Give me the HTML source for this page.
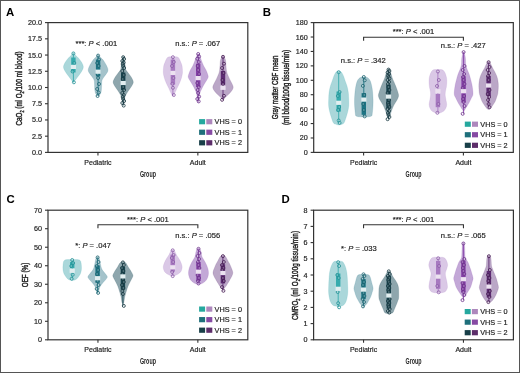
<!DOCTYPE html><html><head><meta charset="utf-8"><style>html,body{margin:0;padding:0;background:#fff;}svg{display:block;will-change:transform;} .r{stroke:#1e1e1e;stroke-width:0.18px;} .t{stroke:#1e1e1e;stroke-width:0.42px;}</style></head><body><svg width="520" height="373" viewBox="0 0 520 373">
<rect x="0" y="0" width="520" height="373" fill="#fff"/>
<path d="M73.70,52.50 C73.98,52.92 74.62,54.08 75.40,55.00 C76.18,55.92 77.40,56.83 78.40,58.00 C79.40,59.17 80.58,60.60 81.40,62.00 C82.22,63.40 83.13,65.07 83.30,66.40 C83.47,67.73 82.97,68.73 82.40,70.00 C81.83,71.27 80.82,72.67 79.90,74.00 C78.98,75.33 77.85,76.75 76.90,78.00 C75.95,79.25 74.78,80.75 74.20,81.50 C73.62,82.25 73.53,82.33 73.40,82.50 L73.40,82.50 C73.27,82.33 73.18,82.25 72.60,81.50 C72.02,80.75 70.85,79.25 69.90,78.00 C68.95,76.75 67.82,75.33 66.90,74.00 C65.98,72.67 64.97,71.27 64.40,70.00 C63.83,68.73 63.33,67.73 63.50,66.40 C63.67,65.07 64.58,63.40 65.40,62.00 C66.22,60.60 67.40,59.17 68.40,58.00 C69.40,56.83 70.62,55.92 71.40,55.00 C72.18,54.08 72.82,52.92 73.10,52.50 Z" fill="#aad7da" stroke="#35abad" stroke-opacity="0.25" stroke-width="0.6"/>
<line x1="73.40" y1="53.40" x2="73.40" y2="82.30" stroke="#35abad" stroke-width="0.9"/>
<rect x="71.20" y="57.50" width="4.4" height="15.00" fill="#35abad"/>
<circle cx="73.40" cy="53.40" r="1.5" fill="#fff" fill-opacity="0.22" stroke="#1f8f94" stroke-width="0.8"/>
<circle cx="74.30" cy="63.00" r="1.5" fill="#fff" fill-opacity="0.22" stroke="#1f8f94" stroke-width="0.8"/>
<circle cx="72.50" cy="71.50" r="1.5" fill="#fff" fill-opacity="0.22" stroke="#1f8f94" stroke-width="0.8"/>
<circle cx="73.90" cy="82.30" r="1.5" fill="#fff" fill-opacity="0.22" stroke="#1f8f94" stroke-width="0.8"/>
<rect x="70.80" y="64.80" width="5.2" height="4.2" fill="#e2eef0"/>
<path d="M98.60,55.00 C98.85,55.33 99.35,56.17 100.10,57.00 C100.85,57.83 102.00,58.50 103.10,60.00 C104.20,61.50 105.90,64.18 106.70,66.00 C107.50,67.82 108.23,69.23 107.90,70.90 C107.57,72.57 105.67,74.48 104.70,76.00 C103.73,77.52 102.60,78.67 102.10,80.00 C101.60,81.33 101.82,82.33 101.70,84.00 C101.58,85.67 101.58,88.42 101.40,90.00 C101.22,91.58 101.07,92.50 100.60,93.50 C100.13,94.50 98.93,95.58 98.60,96.00 L97.60,96.00 C97.27,95.58 96.07,94.50 95.60,93.50 C95.13,92.50 94.98,91.58 94.80,90.00 C94.62,88.42 94.62,85.67 94.50,84.00 C94.38,82.33 94.60,81.33 94.10,80.00 C93.60,78.67 92.47,77.52 91.50,76.00 C90.53,74.48 88.63,72.57 88.30,70.90 C87.97,69.23 88.70,67.82 89.50,66.00 C90.30,64.18 92.00,61.50 93.10,60.00 C94.20,58.50 95.35,57.83 96.10,57.00 C96.85,56.17 97.35,55.33 97.60,55.00 Z" fill="#a4c3cb" stroke="#1d7585" stroke-opacity="0.25" stroke-width="0.6"/>
<line x1="98.10" y1="55.60" x2="98.10" y2="96.00" stroke="#1d7585" stroke-width="0.9"/>
<rect x="95.90" y="59.50" width="4.4" height="17.00" fill="#1d7585"/>
<circle cx="98.10" cy="55.60" r="1.5" fill="#fff" fill-opacity="0.22" stroke="#175f6c" stroke-width="0.8"/>
<circle cx="99.00" cy="59.50" r="1.5" fill="#fff" fill-opacity="0.22" stroke="#175f6c" stroke-width="0.8"/>
<circle cx="97.20" cy="63.00" r="1.5" fill="#fff" fill-opacity="0.22" stroke="#175f6c" stroke-width="0.8"/>
<circle cx="98.60" cy="66.00" r="1.5" fill="#fff" fill-opacity="0.22" stroke="#175f6c" stroke-width="0.8"/>
<circle cx="97.60" cy="74.00" r="1.5" fill="#fff" fill-opacity="0.22" stroke="#175f6c" stroke-width="0.8"/>
<circle cx="98.10" cy="78.00" r="1.5" fill="#fff" fill-opacity="0.22" stroke="#175f6c" stroke-width="0.8"/>
<circle cx="99.00" cy="84.00" r="1.5" fill="#fff" fill-opacity="0.22" stroke="#175f6c" stroke-width="0.8"/>
<circle cx="97.20" cy="89.00" r="1.5" fill="#fff" fill-opacity="0.22" stroke="#175f6c" stroke-width="0.8"/>
<circle cx="98.60" cy="92.50" r="1.5" fill="#fff" fill-opacity="0.22" stroke="#175f6c" stroke-width="0.8"/>
<circle cx="97.60" cy="96.00" r="1.5" fill="#fff" fill-opacity="0.22" stroke="#175f6c" stroke-width="0.8"/>
<rect x="95.50" y="69.60" width="5.2" height="4.2" fill="#e2eef0"/>
<path d="M123.70,56.50 C123.88,57.42 124.52,60.25 124.80,62.00 C125.08,63.75 125.20,65.65 125.40,67.00 C125.60,68.35 125.28,68.78 126.00,70.10 C126.72,71.42 128.70,73.50 129.70,74.90 C130.70,76.30 131.40,77.28 132.00,78.50 C132.60,79.72 133.35,80.95 133.30,82.20 C133.25,83.45 132.45,84.67 131.70,86.00 C130.95,87.33 129.85,88.57 128.80,90.20 C127.75,91.83 126.12,94.17 125.40,95.80 C124.68,97.43 124.80,98.55 124.50,100.00 C124.20,101.45 123.75,103.75 123.60,104.50 L122.80,104.50 C122.65,103.75 122.20,101.45 121.90,100.00 C121.60,98.55 121.72,97.43 121.00,95.80 C120.28,94.17 118.65,91.83 117.60,90.20 C116.55,88.57 115.45,87.33 114.70,86.00 C113.95,84.67 113.15,83.45 113.10,82.20 C113.05,80.95 113.80,79.72 114.40,78.50 C115.00,77.28 115.70,76.30 116.70,74.90 C117.70,73.50 119.68,71.42 120.40,70.10 C121.12,68.78 120.80,68.35 121.00,67.00 C121.20,65.65 121.32,63.75 121.60,62.00 C121.88,60.25 122.52,57.42 122.70,56.50 Z" fill="#8ea6ad" stroke="#174550" stroke-opacity="0.25" stroke-width="0.6"/>
<line x1="123.20" y1="57.20" x2="123.20" y2="105.60" stroke="#174550" stroke-width="0.9"/>
<rect x="121.00" y="72.50" width="4.4" height="17.70" fill="#174550"/>
<circle cx="123.20" cy="57.20" r="1.5" fill="#fff" fill-opacity="0.22" stroke="#12343c" stroke-width="0.8"/>
<circle cx="124.10" cy="59.00" r="1.5" fill="#fff" fill-opacity="0.22" stroke="#12343c" stroke-width="0.8"/>
<circle cx="122.30" cy="61.00" r="1.5" fill="#fff" fill-opacity="0.22" stroke="#12343c" stroke-width="0.8"/>
<circle cx="123.70" cy="62.50" r="1.5" fill="#fff" fill-opacity="0.22" stroke="#12343c" stroke-width="0.8"/>
<circle cx="122.70" cy="64.00" r="1.5" fill="#fff" fill-opacity="0.22" stroke="#12343c" stroke-width="0.8"/>
<circle cx="123.20" cy="66.00" r="1.5" fill="#fff" fill-opacity="0.22" stroke="#12343c" stroke-width="0.8"/>
<circle cx="124.10" cy="68.00" r="1.5" fill="#fff" fill-opacity="0.22" stroke="#12343c" stroke-width="0.8"/>
<circle cx="122.30" cy="71.00" r="1.5" fill="#fff" fill-opacity="0.22" stroke="#12343c" stroke-width="0.8"/>
<circle cx="123.70" cy="75.00" r="1.5" fill="#fff" fill-opacity="0.22" stroke="#12343c" stroke-width="0.8"/>
<circle cx="122.70" cy="79.00" r="1.5" fill="#fff" fill-opacity="0.22" stroke="#12343c" stroke-width="0.8"/>
<circle cx="123.20" cy="87.00" r="1.5" fill="#fff" fill-opacity="0.22" stroke="#12343c" stroke-width="0.8"/>
<circle cx="124.10" cy="90.00" r="1.5" fill="#fff" fill-opacity="0.22" stroke="#12343c" stroke-width="0.8"/>
<circle cx="122.30" cy="93.00" r="1.5" fill="#fff" fill-opacity="0.22" stroke="#12343c" stroke-width="0.8"/>
<circle cx="123.70" cy="95.00" r="1.5" fill="#fff" fill-opacity="0.22" stroke="#12343c" stroke-width="0.8"/>
<circle cx="122.70" cy="97.00" r="1.5" fill="#fff" fill-opacity="0.22" stroke="#12343c" stroke-width="0.8"/>
<circle cx="123.20" cy="99.00" r="1.5" fill="#fff" fill-opacity="0.22" stroke="#12343c" stroke-width="0.8"/>
<circle cx="124.10" cy="101.00" r="1.5" fill="#fff" fill-opacity="0.22" stroke="#12343c" stroke-width="0.8"/>
<circle cx="122.30" cy="103.00" r="1.5" fill="#fff" fill-opacity="0.22" stroke="#12343c" stroke-width="0.8"/>
<circle cx="123.70" cy="105.60" r="1.5" fill="#fff" fill-opacity="0.22" stroke="#12343c" stroke-width="0.8"/>
<rect x="120.60" y="80.90" width="5.2" height="4.2" fill="#e2eef0"/>
<path d="M175.90,56.80 C176.23,56.87 177.37,56.92 177.90,57.20 C178.43,57.48 178.63,57.70 179.10,58.50 C179.57,59.30 180.20,60.75 180.70,62.00 C181.20,63.25 181.80,64.25 182.10,66.00 C182.40,67.75 182.57,70.67 182.50,72.50 C182.43,74.33 182.02,75.67 181.70,77.00 C181.38,78.33 181.07,79.25 180.60,80.50 C180.13,81.75 179.52,83.15 178.90,84.50 C178.28,85.85 177.60,87.10 176.90,88.60 C176.20,90.10 175.32,92.27 174.70,93.50 C174.08,94.73 173.45,95.58 173.20,96.00 L172.60,96.00 C172.35,95.58 171.72,94.73 171.10,93.50 C170.48,92.27 169.60,90.10 168.90,88.60 C168.20,87.10 167.52,85.85 166.90,84.50 C166.28,83.15 165.67,81.75 165.20,80.50 C164.73,79.25 164.42,78.33 164.10,77.00 C163.78,75.67 163.37,74.33 163.30,72.50 C163.23,70.67 163.40,67.75 163.70,66.00 C164.00,64.25 164.60,63.25 165.10,62.00 C165.60,60.75 166.23,59.30 166.70,58.50 C167.17,57.70 167.37,57.48 167.90,57.20 C168.43,56.92 169.57,56.87 169.90,56.80 Z" fill="#dac8e6" stroke="#a779c0" stroke-opacity="0.25" stroke-width="0.6"/>
<line x1="172.90" y1="57.20" x2="172.90" y2="95.50" stroke="#a779c0" stroke-width="0.9"/>
<rect x="170.70" y="59.60" width="4.4" height="25.00" fill="#a779c0"/>
<circle cx="172.90" cy="57.20" r="1.5" fill="#fff" fill-opacity="0.22" stroke="#8a5aa6" stroke-width="0.8"/>
<circle cx="173.80" cy="62.00" r="1.5" fill="#fff" fill-opacity="0.22" stroke="#8a5aa6" stroke-width="0.8"/>
<circle cx="172.00" cy="66.00" r="1.5" fill="#fff" fill-opacity="0.22" stroke="#8a5aa6" stroke-width="0.8"/>
<circle cx="173.40" cy="78.00" r="1.5" fill="#fff" fill-opacity="0.22" stroke="#8a5aa6" stroke-width="0.8"/>
<circle cx="172.40" cy="83.80" r="1.5" fill="#fff" fill-opacity="0.22" stroke="#8a5aa6" stroke-width="0.8"/>
<circle cx="172.90" cy="87.80" r="1.5" fill="#fff" fill-opacity="0.22" stroke="#8a5aa6" stroke-width="0.8"/>
<circle cx="173.80" cy="95.00" r="1.5" fill="#fff" fill-opacity="0.22" stroke="#8a5aa6" stroke-width="0.8"/>
<rect x="170.30" y="70.80" width="5.2" height="4.2" fill="#ece2f0"/>
<path d="M198.70,54.00 C198.95,54.50 199.65,55.67 200.20,57.00 C200.75,58.33 201.42,60.50 202.00,62.00 C202.58,63.50 203.03,64.67 203.70,66.00 C204.37,67.33 205.35,68.65 206.00,70.00 C206.65,71.35 207.23,72.88 207.60,74.10 C207.97,75.32 208.43,76.15 208.20,77.30 C207.97,78.45 206.98,79.65 206.20,81.00 C205.42,82.35 204.25,84.07 203.50,85.40 C202.75,86.73 202.32,87.67 201.70,89.00 C201.08,90.33 200.22,91.73 199.80,93.40 C199.38,95.07 199.42,97.48 199.20,99.00 C198.98,100.52 198.62,101.92 198.50,102.50 L197.90,102.50 C197.78,101.92 197.42,100.52 197.20,99.00 C196.98,97.48 197.02,95.07 196.60,93.40 C196.18,91.73 195.32,90.33 194.70,89.00 C194.08,87.67 193.65,86.73 192.90,85.40 C192.15,84.07 190.98,82.35 190.20,81.00 C189.42,79.65 188.43,78.45 188.20,77.30 C187.97,76.15 188.43,75.32 188.80,74.10 C189.17,72.88 189.75,71.35 190.40,70.00 C191.05,68.65 192.03,67.33 192.70,66.00 C193.37,64.67 193.82,63.50 194.40,62.00 C194.98,60.50 195.65,58.33 196.20,57.00 C196.75,55.67 197.45,54.50 197.70,54.00 Z" fill="#c3a8d7" stroke="#8440a6" stroke-opacity="0.25" stroke-width="0.6"/>
<line x1="198.20" y1="54.00" x2="198.20" y2="101.40" stroke="#8440a6" stroke-width="0.9"/>
<rect x="196.00" y="63.70" width="4.4" height="23.30" fill="#8440a6"/>
<circle cx="198.20" cy="54.00" r="1.5" fill="#fff" fill-opacity="0.22" stroke="#6a2f88" stroke-width="0.8"/>
<circle cx="199.10" cy="56.50" r="1.5" fill="#fff" fill-opacity="0.22" stroke="#6a2f88" stroke-width="0.8"/>
<circle cx="197.30" cy="58.80" r="1.5" fill="#fff" fill-opacity="0.22" stroke="#6a2f88" stroke-width="0.8"/>
<circle cx="198.70" cy="62.00" r="1.5" fill="#fff" fill-opacity="0.22" stroke="#6a2f88" stroke-width="0.8"/>
<circle cx="197.70" cy="66.00" r="1.5" fill="#fff" fill-opacity="0.22" stroke="#6a2f88" stroke-width="0.8"/>
<circle cx="198.20" cy="70.00" r="1.5" fill="#fff" fill-opacity="0.22" stroke="#6a2f88" stroke-width="0.8"/>
<circle cx="199.10" cy="74.00" r="1.5" fill="#fff" fill-opacity="0.22" stroke="#6a2f88" stroke-width="0.8"/>
<circle cx="197.30" cy="83.00" r="1.5" fill="#fff" fill-opacity="0.22" stroke="#6a2f88" stroke-width="0.8"/>
<circle cx="198.70" cy="87.00" r="1.5" fill="#fff" fill-opacity="0.22" stroke="#6a2f88" stroke-width="0.8"/>
<circle cx="197.70" cy="90.00" r="1.5" fill="#fff" fill-opacity="0.22" stroke="#6a2f88" stroke-width="0.8"/>
<circle cx="198.20" cy="93.00" r="1.5" fill="#fff" fill-opacity="0.22" stroke="#6a2f88" stroke-width="0.8"/>
<circle cx="199.10" cy="96.60" r="1.5" fill="#fff" fill-opacity="0.22" stroke="#6a2f88" stroke-width="0.8"/>
<circle cx="197.30" cy="99.00" r="1.5" fill="#fff" fill-opacity="0.22" stroke="#6a2f88" stroke-width="0.8"/>
<circle cx="198.70" cy="101.40" r="1.5" fill="#fff" fill-opacity="0.22" stroke="#6a2f88" stroke-width="0.8"/>
<rect x="195.60" y="76.00" width="5.2" height="4.2" fill="#ece2f0"/>
<path d="M223.80,56.00 C224.08,56.67 225.15,58.67 225.50,60.00 C225.85,61.33 225.73,62.18 225.90,64.00 C226.07,65.82 226.18,69.07 226.50,70.90 C226.82,72.73 227.30,73.67 227.80,75.00 C228.30,76.33 228.87,77.57 229.50,78.90 C230.13,80.23 230.98,81.65 231.60,83.00 C232.22,84.35 233.10,85.83 233.20,87.00 C233.30,88.17 232.82,88.93 232.20,90.00 C231.58,91.07 230.50,92.32 229.50,93.40 C228.50,94.48 227.20,95.48 226.20,96.50 C225.20,97.52 223.95,99.00 223.50,99.50 L222.50,99.50 C222.05,99.00 220.80,97.52 219.80,96.50 C218.80,95.48 217.50,94.48 216.50,93.40 C215.50,92.32 214.42,91.07 213.80,90.00 C213.18,88.93 212.70,88.17 212.80,87.00 C212.90,85.83 213.78,84.35 214.40,83.00 C215.02,81.65 215.87,80.23 216.50,78.90 C217.13,77.57 217.70,76.33 218.20,75.00 C218.70,73.67 219.18,72.73 219.50,70.90 C219.82,69.07 219.93,65.82 220.10,64.00 C220.27,62.18 220.15,61.33 220.50,60.00 C220.85,58.67 221.92,56.67 222.20,56.00 Z" fill="#bba7c7" stroke="#5e2c74" stroke-opacity="0.25" stroke-width="0.6"/>
<line x1="223.00" y1="56.80" x2="223.00" y2="99.80" stroke="#5e2c74" stroke-width="0.9"/>
<rect x="220.80" y="70.90" width="4.4" height="13.70" fill="#5e2c74"/>
<circle cx="223.00" cy="56.80" r="1.5" fill="#fff" fill-opacity="0.22" stroke="#43184f" stroke-width="0.8"/>
<circle cx="223.90" cy="63.70" r="1.5" fill="#fff" fill-opacity="0.22" stroke="#43184f" stroke-width="0.8"/>
<circle cx="222.10" cy="68.00" r="1.5" fill="#fff" fill-opacity="0.22" stroke="#43184f" stroke-width="0.8"/>
<circle cx="223.50" cy="73.00" r="1.5" fill="#fff" fill-opacity="0.22" stroke="#43184f" stroke-width="0.8"/>
<circle cx="222.50" cy="80.00" r="1.5" fill="#fff" fill-opacity="0.22" stroke="#43184f" stroke-width="0.8"/>
<circle cx="223.00" cy="84.00" r="1.5" fill="#fff" fill-opacity="0.22" stroke="#43184f" stroke-width="0.8"/>
<circle cx="223.90" cy="95.80" r="1.5" fill="#fff" fill-opacity="0.22" stroke="#43184f" stroke-width="0.8"/>
<circle cx="222.10" cy="99.80" r="1.5" fill="#fff" fill-opacity="0.22" stroke="#43184f" stroke-width="0.8"/>
<rect x="220.40" y="85.70" width="5.2" height="4.2" fill="#ece2f0"/>
<path d="M339.50,71.20 C339.83,71.37 340.83,71.40 341.50,72.20 C342.17,73.00 342.88,74.53 343.50,76.00 C344.12,77.47 344.62,79.33 345.20,81.00 C345.78,82.67 346.48,84.12 347.00,86.00 C347.52,87.88 348.02,90.30 348.30,92.30 C348.58,94.30 348.62,95.85 348.70,98.00 C348.78,100.15 348.90,103.20 348.80,105.20 C348.70,107.20 348.42,108.40 348.10,110.00 C347.78,111.60 347.30,113.38 346.90,114.80 C346.50,116.22 346.07,117.38 345.70,118.50 C345.33,119.62 345.12,120.62 344.70,121.50 C344.28,122.38 343.95,123.25 343.20,123.80 C342.45,124.35 340.95,124.60 340.20,124.80 C339.45,125.00 338.95,124.97 338.70,125.00 L338.70,125.00 C338.45,124.97 337.95,125.00 337.20,124.80 C336.45,124.60 334.95,124.35 334.20,123.80 C333.45,123.25 333.12,122.38 332.70,121.50 C332.28,120.62 332.07,119.62 331.70,118.50 C331.33,117.38 330.90,116.22 330.50,114.80 C330.10,113.38 329.62,111.60 329.30,110.00 C328.98,108.40 328.70,107.20 328.60,105.20 C328.50,103.20 328.62,100.15 328.70,98.00 C328.78,95.85 328.82,94.30 329.10,92.30 C329.38,90.30 329.88,87.88 330.40,86.00 C330.92,84.12 331.62,82.67 332.20,81.00 C332.78,79.33 333.28,77.47 333.90,76.00 C334.52,74.53 335.23,73.00 335.90,72.20 C336.57,71.40 337.57,71.37 337.90,71.20 Z" fill="#aad7da" stroke="#35abad" stroke-opacity="0.25" stroke-width="0.6"/>
<line x1="338.70" y1="72.20" x2="338.70" y2="122.90" stroke="#35abad" stroke-width="0.9"/>
<rect x="336.50" y="91.50" width="4.4" height="20.10" fill="#35abad"/>
<circle cx="338.70" cy="72.20" r="1.5" fill="#fff" fill-opacity="0.22" stroke="#1f8f94" stroke-width="0.8"/>
<circle cx="339.60" cy="92.00" r="1.5" fill="#fff" fill-opacity="0.22" stroke="#1f8f94" stroke-width="0.8"/>
<circle cx="337.80" cy="96.00" r="1.5" fill="#fff" fill-opacity="0.22" stroke="#1f8f94" stroke-width="0.8"/>
<circle cx="339.20" cy="107.00" r="1.5" fill="#fff" fill-opacity="0.22" stroke="#1f8f94" stroke-width="0.8"/>
<circle cx="338.20" cy="110.00" r="1.5" fill="#fff" fill-opacity="0.22" stroke="#1f8f94" stroke-width="0.8"/>
<circle cx="338.70" cy="120.50" r="1.5" fill="#fff" fill-opacity="0.22" stroke="#1f8f94" stroke-width="0.8"/>
<circle cx="339.60" cy="122.90" r="1.5" fill="#fff" fill-opacity="0.22" stroke="#1f8f94" stroke-width="0.8"/>
<rect x="336.10" y="100.70" width="5.2" height="4.2" fill="#e2eef0"/>
<path d="M365.80,77.00 C366.05,77.08 366.83,77.25 367.30,77.50 C367.77,77.75 368.10,77.92 368.60,78.50 C369.10,79.08 369.78,79.77 370.30,81.00 C370.82,82.23 371.32,84.07 371.70,85.90 C372.08,87.73 372.37,89.58 372.60,92.00 C372.83,94.42 373.05,97.90 373.10,100.40 C373.15,102.90 373.03,104.87 372.90,107.00 C372.77,109.13 372.52,111.70 372.30,113.20 C372.08,114.70 372.27,115.40 371.60,116.00 C370.93,116.60 369.60,116.63 368.30,116.80 C367.00,116.97 364.55,116.97 363.80,117.00 L363.80,117.00 C363.05,116.97 360.60,116.97 359.30,116.80 C358.00,116.63 356.67,116.60 356.00,116.00 C355.33,115.40 355.52,114.70 355.30,113.20 C355.08,111.70 354.83,109.13 354.70,107.00 C354.57,104.87 354.45,102.90 354.50,100.40 C354.55,97.90 354.77,94.42 355.00,92.00 C355.23,89.58 355.52,87.73 355.90,85.90 C356.28,84.07 356.78,82.23 357.30,81.00 C357.82,79.77 358.50,79.08 359.00,78.50 C359.50,77.92 359.83,77.75 360.30,77.50 C360.77,77.25 361.55,77.08 361.80,77.00 Z" fill="#a4c3cb" stroke="#1d7585" stroke-opacity="0.25" stroke-width="0.6"/>
<line x1="363.80" y1="77.00" x2="363.80" y2="116.40" stroke="#1d7585" stroke-width="0.9"/>
<rect x="361.60" y="93.10" width="4.4" height="21.70" fill="#1d7585"/>
<circle cx="363.80" cy="77.00" r="1.5" fill="#fff" fill-opacity="0.22" stroke="#175f6c" stroke-width="0.8"/>
<circle cx="364.70" cy="80.30" r="1.5" fill="#fff" fill-opacity="0.22" stroke="#175f6c" stroke-width="0.8"/>
<circle cx="362.90" cy="85.90" r="1.5" fill="#fff" fill-opacity="0.22" stroke="#175f6c" stroke-width="0.8"/>
<circle cx="364.30" cy="95.00" r="1.5" fill="#fff" fill-opacity="0.22" stroke="#175f6c" stroke-width="0.8"/>
<circle cx="363.30" cy="104.00" r="1.5" fill="#fff" fill-opacity="0.22" stroke="#175f6c" stroke-width="0.8"/>
<circle cx="363.80" cy="110.00" r="1.5" fill="#fff" fill-opacity="0.22" stroke="#175f6c" stroke-width="0.8"/>
<circle cx="364.70" cy="116.40" r="1.5" fill="#fff" fill-opacity="0.22" stroke="#175f6c" stroke-width="0.8"/>
<rect x="361.20" y="97.50" width="5.2" height="4.2" fill="#e2eef0"/>
<path d="M389.00,68.80 C389.25,69.33 389.98,70.57 390.50,72.00 C391.02,73.43 391.52,75.73 392.10,77.40 C392.68,79.07 393.40,80.55 394.00,82.00 C394.60,83.45 395.12,84.60 395.70,86.10 C396.28,87.60 397.02,89.40 397.50,91.00 C397.98,92.60 398.68,94.20 398.60,95.70 C398.52,97.20 397.80,98.40 397.00,100.00 C396.20,101.60 394.67,103.63 393.80,105.30 C392.93,106.97 392.35,108.55 391.80,110.00 C391.25,111.45 390.97,112.60 390.50,114.00 C390.03,115.40 389.25,117.67 389.00,118.40 L388.00,118.40 C387.75,117.67 386.97,115.40 386.50,114.00 C386.03,112.60 385.75,111.45 385.20,110.00 C384.65,108.55 384.07,106.97 383.20,105.30 C382.33,103.63 380.80,101.60 380.00,100.00 C379.20,98.40 378.48,97.20 378.40,95.70 C378.32,94.20 379.02,92.60 379.50,91.00 C379.98,89.40 380.72,87.60 381.30,86.10 C381.88,84.60 382.40,83.45 383.00,82.00 C383.60,80.55 384.32,79.07 384.90,77.40 C385.48,75.73 385.98,73.43 386.50,72.00 C387.02,70.57 387.75,69.33 388.00,68.80 Z" fill="#8ea6ad" stroke="#174550" stroke-opacity="0.25" stroke-width="0.6"/>
<line x1="388.50" y1="69.60" x2="388.50" y2="119.20" stroke="#174550" stroke-width="0.9"/>
<rect x="386.30" y="84.50" width="4.4" height="24.30" fill="#174550"/>
<circle cx="388.50" cy="69.60" r="1.5" fill="#fff" fill-opacity="0.22" stroke="#12343c" stroke-width="0.8"/>
<circle cx="389.40" cy="71.00" r="1.5" fill="#fff" fill-opacity="0.22" stroke="#12343c" stroke-width="0.8"/>
<circle cx="387.60" cy="72.50" r="1.5" fill="#fff" fill-opacity="0.22" stroke="#12343c" stroke-width="0.8"/>
<circle cx="389.00" cy="74.00" r="1.5" fill="#fff" fill-opacity="0.22" stroke="#12343c" stroke-width="0.8"/>
<circle cx="388.00" cy="75.50" r="1.5" fill="#fff" fill-opacity="0.22" stroke="#12343c" stroke-width="0.8"/>
<circle cx="388.50" cy="77.00" r="1.5" fill="#fff" fill-opacity="0.22" stroke="#12343c" stroke-width="0.8"/>
<circle cx="389.40" cy="78.50" r="1.5" fill="#fff" fill-opacity="0.22" stroke="#12343c" stroke-width="0.8"/>
<circle cx="387.60" cy="80.00" r="1.5" fill="#fff" fill-opacity="0.22" stroke="#12343c" stroke-width="0.8"/>
<circle cx="389.00" cy="82.00" r="1.5" fill="#fff" fill-opacity="0.22" stroke="#12343c" stroke-width="0.8"/>
<circle cx="388.00" cy="84.00" r="1.5" fill="#fff" fill-opacity="0.22" stroke="#12343c" stroke-width="0.8"/>
<circle cx="388.50" cy="87.00" r="1.5" fill="#fff" fill-opacity="0.22" stroke="#12343c" stroke-width="0.8"/>
<circle cx="389.40" cy="90.00" r="1.5" fill="#fff" fill-opacity="0.22" stroke="#12343c" stroke-width="0.8"/>
<circle cx="387.60" cy="93.00" r="1.5" fill="#fff" fill-opacity="0.22" stroke="#12343c" stroke-width="0.8"/>
<circle cx="389.00" cy="100.00" r="1.5" fill="#fff" fill-opacity="0.22" stroke="#12343c" stroke-width="0.8"/>
<circle cx="388.00" cy="103.00" r="1.5" fill="#fff" fill-opacity="0.22" stroke="#12343c" stroke-width="0.8"/>
<circle cx="388.50" cy="105.00" r="1.5" fill="#fff" fill-opacity="0.22" stroke="#12343c" stroke-width="0.8"/>
<circle cx="389.40" cy="107.00" r="1.5" fill="#fff" fill-opacity="0.22" stroke="#12343c" stroke-width="0.8"/>
<circle cx="387.60" cy="109.00" r="1.5" fill="#fff" fill-opacity="0.22" stroke="#12343c" stroke-width="0.8"/>
<circle cx="389.00" cy="111.00" r="1.5" fill="#fff" fill-opacity="0.22" stroke="#12343c" stroke-width="0.8"/>
<circle cx="388.00" cy="113.00" r="1.5" fill="#fff" fill-opacity="0.22" stroke="#12343c" stroke-width="0.8"/>
<circle cx="388.50" cy="115.00" r="1.5" fill="#fff" fill-opacity="0.22" stroke="#12343c" stroke-width="0.8"/>
<circle cx="389.40" cy="117.00" r="1.5" fill="#fff" fill-opacity="0.22" stroke="#12343c" stroke-width="0.8"/>
<circle cx="387.60" cy="119.20" r="1.5" fill="#fff" fill-opacity="0.22" stroke="#12343c" stroke-width="0.8"/>
<rect x="385.90" y="94.50" width="5.2" height="4.2" fill="#e2eef0"/>
<path d="M441.40,69.60 C441.73,69.75 442.78,69.93 443.40,70.50 C444.02,71.07 444.57,71.75 445.10,73.00 C445.63,74.25 446.32,76.33 446.60,78.00 C446.88,79.67 446.85,81.42 446.80,83.00 C446.75,84.58 446.52,86.17 446.30,87.50 C446.08,88.83 445.68,89.75 445.50,91.00 C445.32,92.25 445.13,93.58 445.20,95.00 C445.27,96.42 445.65,97.93 445.90,99.50 C446.15,101.07 446.70,102.98 446.70,104.40 C446.70,105.82 446.37,106.90 445.90,108.00 C445.43,109.10 444.82,110.20 443.90,111.00 C442.98,111.80 441.40,112.43 440.40,112.80 C439.40,113.17 438.32,113.13 437.90,113.20 L437.90,113.20 C437.48,113.13 436.40,113.17 435.40,112.80 C434.40,112.43 432.82,111.80 431.90,111.00 C430.98,110.20 430.37,109.10 429.90,108.00 C429.43,106.90 429.10,105.82 429.10,104.40 C429.10,102.98 429.65,101.07 429.90,99.50 C430.15,97.93 430.53,96.42 430.60,95.00 C430.67,93.58 430.48,92.25 430.30,91.00 C430.12,89.75 429.72,88.83 429.50,87.50 C429.28,86.17 429.05,84.58 429.00,83.00 C428.95,81.42 428.92,79.67 429.20,78.00 C429.48,76.33 430.17,74.25 430.70,73.00 C431.23,71.75 431.78,71.07 432.40,70.50 C433.02,69.93 434.07,69.75 434.40,69.60 Z" fill="#dac8e6" stroke="#a779c0" stroke-opacity="0.25" stroke-width="0.6"/>
<line x1="437.90" y1="71.50" x2="437.90" y2="112.80" stroke="#a779c0" stroke-width="0.9"/>
<rect x="435.70" y="94.00" width="4.4" height="13.20" fill="#a779c0"/>
<circle cx="437.90" cy="71.50" r="1.5" fill="#fff" fill-opacity="0.22" stroke="#8a5aa6" stroke-width="0.8"/>
<circle cx="438.80" cy="80.00" r="1.5" fill="#fff" fill-opacity="0.22" stroke="#8a5aa6" stroke-width="0.8"/>
<circle cx="437.00" cy="86.00" r="1.5" fill="#fff" fill-opacity="0.22" stroke="#8a5aa6" stroke-width="0.8"/>
<circle cx="438.40" cy="104.00" r="1.5" fill="#fff" fill-opacity="0.22" stroke="#8a5aa6" stroke-width="0.8"/>
<circle cx="437.40" cy="112.80" r="1.5" fill="#fff" fill-opacity="0.22" stroke="#8a5aa6" stroke-width="0.8"/>
<rect x="435.30" y="89.10" width="5.2" height="4.2" fill="#ece2f0"/>
<path d="M464.10,52.00 C464.27,52.67 464.85,54.67 465.10,56.00 C465.35,57.33 465.48,58.52 465.60,60.00 C465.72,61.48 465.50,63.23 465.80,64.90 C466.10,66.57 466.83,68.43 467.40,70.00 C467.97,71.57 468.63,72.63 469.20,74.30 C469.77,75.97 470.32,78.12 470.80,80.00 C471.28,81.88 471.73,83.27 472.10,85.60 C472.47,87.93 473.12,91.93 473.00,94.00 C472.88,96.07 472.03,96.58 471.40,98.00 C470.77,99.42 469.92,101.17 469.20,102.50 C468.48,103.83 467.87,104.75 467.10,106.00 C466.33,107.25 465.13,109.17 464.60,110.00 C464.07,110.83 464.02,110.83 463.90,111.00 L463.30,111.00 C463.18,110.83 463.13,110.83 462.60,110.00 C462.07,109.17 460.87,107.25 460.10,106.00 C459.33,104.75 458.72,103.83 458.00,102.50 C457.28,101.17 456.43,99.42 455.80,98.00 C455.17,96.58 454.32,96.07 454.20,94.00 C454.08,91.93 454.73,87.93 455.10,85.60 C455.47,83.27 455.92,81.88 456.40,80.00 C456.88,78.12 457.43,75.97 458.00,74.30 C458.57,72.63 459.23,71.57 459.80,70.00 C460.37,68.43 461.10,66.57 461.40,64.90 C461.70,63.23 461.48,61.48 461.60,60.00 C461.72,58.52 461.85,57.33 462.10,56.00 C462.35,54.67 462.93,52.67 463.10,52.00 Z" fill="#c3a8d7" stroke="#8440a6" stroke-opacity="0.25" stroke-width="0.6"/>
<line x1="463.60" y1="52.10" x2="463.60" y2="113.80" stroke="#8440a6" stroke-width="0.9"/>
<rect x="461.40" y="76.20" width="4.4" height="26.30" fill="#8440a6"/>
<circle cx="463.60" cy="52.10" r="1.5" fill="#fff" fill-opacity="0.22" stroke="#6a2f88" stroke-width="0.8"/>
<circle cx="464.50" cy="66.00" r="1.5" fill="#fff" fill-opacity="0.22" stroke="#6a2f88" stroke-width="0.8"/>
<circle cx="462.70" cy="70.00" r="1.5" fill="#fff" fill-opacity="0.22" stroke="#6a2f88" stroke-width="0.8"/>
<circle cx="464.10" cy="74.00" r="1.5" fill="#fff" fill-opacity="0.22" stroke="#6a2f88" stroke-width="0.8"/>
<circle cx="463.10" cy="77.00" r="1.5" fill="#fff" fill-opacity="0.22" stroke="#6a2f88" stroke-width="0.8"/>
<circle cx="463.60" cy="80.00" r="1.5" fill="#fff" fill-opacity="0.22" stroke="#6a2f88" stroke-width="0.8"/>
<circle cx="464.50" cy="84.00" r="1.5" fill="#fff" fill-opacity="0.22" stroke="#6a2f88" stroke-width="0.8"/>
<circle cx="462.70" cy="88.00" r="1.5" fill="#fff" fill-opacity="0.22" stroke="#6a2f88" stroke-width="0.8"/>
<circle cx="464.10" cy="96.00" r="1.5" fill="#fff" fill-opacity="0.22" stroke="#6a2f88" stroke-width="0.8"/>
<circle cx="463.10" cy="99.00" r="1.5" fill="#fff" fill-opacity="0.22" stroke="#6a2f88" stroke-width="0.8"/>
<circle cx="463.60" cy="102.00" r="1.5" fill="#fff" fill-opacity="0.22" stroke="#6a2f88" stroke-width="0.8"/>
<circle cx="464.50" cy="106.00" r="1.5" fill="#fff" fill-opacity="0.22" stroke="#6a2f88" stroke-width="0.8"/>
<circle cx="462.70" cy="113.80" r="1.5" fill="#fff" fill-opacity="0.22" stroke="#6a2f88" stroke-width="0.8"/>
<rect x="461.00" y="89.10" width="5.2" height="4.2" fill="#ece2f0"/>
<path d="M489.10,61.50 C489.38,61.92 490.22,62.93 490.80,64.00 C491.38,65.07 491.97,66.65 492.60,67.90 C493.23,69.15 493.92,70.17 494.60,71.50 C495.28,72.83 496.17,74.48 496.70,75.90 C497.23,77.32 497.53,78.67 497.80,80.00 C498.07,81.33 498.22,82.57 498.30,83.90 C498.38,85.23 498.38,86.38 498.30,88.00 C498.22,89.62 498.08,92.02 497.80,93.60 C497.52,95.18 497.05,96.17 496.60,97.50 C496.15,98.83 495.77,100.27 495.10,101.60 C494.43,102.93 493.43,104.30 492.60,105.50 C491.77,106.70 490.77,108.13 490.10,108.80 C489.43,109.47 488.85,109.38 488.60,109.50 L488.60,109.50 C488.35,109.38 487.77,109.47 487.10,108.80 C486.43,108.13 485.43,106.70 484.60,105.50 C483.77,104.30 482.77,102.93 482.10,101.60 C481.43,100.27 481.05,98.83 480.60,97.50 C480.15,96.17 479.68,95.18 479.40,93.60 C479.12,92.02 478.98,89.62 478.90,88.00 C478.82,86.38 478.82,85.23 478.90,83.90 C478.98,82.57 479.13,81.33 479.40,80.00 C479.67,78.67 479.97,77.32 480.50,75.90 C481.03,74.48 481.92,72.83 482.60,71.50 C483.28,70.17 483.97,69.15 484.60,67.90 C485.23,66.65 485.82,65.07 486.40,64.00 C486.98,62.93 487.82,61.92 488.10,61.50 Z" fill="#bba7c7" stroke="#5e2c74" stroke-opacity="0.25" stroke-width="0.6"/>
<line x1="488.60" y1="62.20" x2="488.60" y2="107.20" stroke="#5e2c74" stroke-width="0.9"/>
<rect x="486.40" y="75.90" width="4.4" height="20.10" fill="#5e2c74"/>
<circle cx="488.60" cy="62.20" r="1.5" fill="#fff" fill-opacity="0.22" stroke="#43184f" stroke-width="0.8"/>
<circle cx="489.50" cy="67.00" r="1.5" fill="#fff" fill-opacity="0.22" stroke="#43184f" stroke-width="0.8"/>
<circle cx="487.70" cy="70.00" r="1.5" fill="#fff" fill-opacity="0.22" stroke="#43184f" stroke-width="0.8"/>
<circle cx="489.10" cy="73.00" r="1.5" fill="#fff" fill-opacity="0.22" stroke="#43184f" stroke-width="0.8"/>
<circle cx="488.10" cy="76.00" r="1.5" fill="#fff" fill-opacity="0.22" stroke="#43184f" stroke-width="0.8"/>
<circle cx="488.60" cy="80.00" r="1.5" fill="#fff" fill-opacity="0.22" stroke="#43184f" stroke-width="0.8"/>
<circle cx="489.50" cy="90.00" r="1.5" fill="#fff" fill-opacity="0.22" stroke="#43184f" stroke-width="0.8"/>
<circle cx="487.70" cy="94.00" r="1.5" fill="#fff" fill-opacity="0.22" stroke="#43184f" stroke-width="0.8"/>
<circle cx="489.10" cy="97.00" r="1.5" fill="#fff" fill-opacity="0.22" stroke="#43184f" stroke-width="0.8"/>
<circle cx="488.10" cy="100.00" r="1.5" fill="#fff" fill-opacity="0.22" stroke="#43184f" stroke-width="0.8"/>
<circle cx="488.60" cy="104.00" r="1.5" fill="#fff" fill-opacity="0.22" stroke="#43184f" stroke-width="0.8"/>
<circle cx="489.50" cy="107.20" r="1.5" fill="#fff" fill-opacity="0.22" stroke="#43184f" stroke-width="0.8"/>
<rect x="486.00" y="83.40" width="5.2" height="4.2" fill="#ece2f0"/>
<path d="M77.20,259.60 C77.57,259.67 78.85,259.77 79.40,260.00 C79.95,260.23 80.22,260.50 80.50,261.00 C80.78,261.50 80.93,261.93 81.10,263.00 C81.27,264.07 81.48,266.07 81.50,267.40 C81.52,268.73 81.40,269.88 81.20,271.00 C81.00,272.12 80.72,273.18 80.30,274.10 C79.88,275.02 79.27,275.72 78.70,276.50 C78.13,277.28 77.57,278.22 76.90,278.80 C76.23,279.38 75.48,279.73 74.70,280.00 C73.92,280.27 72.62,280.33 72.20,280.40 L72.20,280.40 C71.78,280.33 70.48,280.27 69.70,280.00 C68.92,279.73 68.17,279.38 67.50,278.80 C66.83,278.22 66.27,277.28 65.70,276.50 C65.13,275.72 64.52,275.02 64.10,274.10 C63.68,273.18 63.40,272.12 63.20,271.00 C63.00,269.88 62.88,268.73 62.90,267.40 C62.92,266.07 63.13,264.07 63.30,263.00 C63.47,261.93 63.62,261.50 63.90,261.00 C64.18,260.50 64.45,260.23 65.00,260.00 C65.55,259.77 66.83,259.67 67.20,259.60 Z" fill="#aad7da" stroke="#35abad" stroke-opacity="0.25" stroke-width="0.6"/>
<line x1="72.20" y1="260.00" x2="72.20" y2="278.80" stroke="#35abad" stroke-width="0.9"/>
<rect x="70.00" y="262.10" width="4.4" height="6.00" fill="#35abad"/>
<circle cx="72.20" cy="260.00" r="1.5" fill="#fff" fill-opacity="0.22" stroke="#1f8f94" stroke-width="0.8"/>
<circle cx="73.10" cy="263.00" r="1.5" fill="#fff" fill-opacity="0.22" stroke="#1f8f94" stroke-width="0.8"/>
<circle cx="71.30" cy="266.00" r="1.5" fill="#fff" fill-opacity="0.22" stroke="#1f8f94" stroke-width="0.8"/>
<circle cx="72.70" cy="274.80" r="1.5" fill="#fff" fill-opacity="0.22" stroke="#1f8f94" stroke-width="0.8"/>
<circle cx="71.70" cy="278.80" r="1.5" fill="#fff" fill-opacity="0.22" stroke="#1f8f94" stroke-width="0.8"/>
<rect x="69.60" y="268.70" width="5.2" height="4.2" fill="#e2eef0"/>
<path d="M98.10,256.80 C98.32,257.17 98.98,257.68 99.40,259.00 C99.82,260.32 100.28,263.28 100.60,264.70 C100.92,266.12 101.00,266.60 101.30,267.50 C101.60,268.40 101.77,269.10 102.40,270.10 C103.03,271.10 104.28,272.38 105.10,273.50 C105.92,274.62 107.18,275.80 107.30,276.80 C107.42,277.80 106.53,278.50 105.80,279.50 C105.07,280.50 103.88,281.57 102.90,282.80 C101.92,284.03 100.53,285.70 99.90,286.90 C99.27,288.10 99.43,288.90 99.10,290.00 C98.77,291.10 98.10,292.92 97.90,293.50 L97.30,293.50 C97.10,292.92 96.43,291.10 96.10,290.00 C95.77,288.90 95.93,288.10 95.30,286.90 C94.67,285.70 93.28,284.03 92.30,282.80 C91.32,281.57 90.13,280.50 89.40,279.50 C88.67,278.50 87.78,277.80 87.90,276.80 C88.02,275.80 89.28,274.62 90.10,273.50 C90.92,272.38 92.17,271.10 92.80,270.10 C93.43,269.10 93.60,268.40 93.90,267.50 C94.20,266.60 94.28,266.12 94.60,264.70 C94.92,263.28 95.38,260.32 95.80,259.00 C96.22,257.68 96.88,257.17 97.10,256.80 Z" fill="#a4c3cb" stroke="#1d7585" stroke-opacity="0.25" stroke-width="0.6"/>
<line x1="97.60" y1="257.40" x2="97.60" y2="292.90" stroke="#1d7585" stroke-width="0.9"/>
<rect x="95.40" y="265.40" width="4.4" height="17.40" fill="#1d7585"/>
<circle cx="97.60" cy="257.40" r="1.5" fill="#fff" fill-opacity="0.22" stroke="#175f6c" stroke-width="0.8"/>
<circle cx="98.50" cy="262.00" r="1.5" fill="#fff" fill-opacity="0.22" stroke="#175f6c" stroke-width="0.8"/>
<circle cx="96.70" cy="266.00" r="1.5" fill="#fff" fill-opacity="0.22" stroke="#175f6c" stroke-width="0.8"/>
<circle cx="98.10" cy="270.00" r="1.5" fill="#fff" fill-opacity="0.22" stroke="#175f6c" stroke-width="0.8"/>
<circle cx="97.10" cy="274.00" r="1.5" fill="#fff" fill-opacity="0.22" stroke="#175f6c" stroke-width="0.8"/>
<circle cx="97.60" cy="281.00" r="1.5" fill="#fff" fill-opacity="0.22" stroke="#175f6c" stroke-width="0.8"/>
<circle cx="98.50" cy="285.00" r="1.5" fill="#fff" fill-opacity="0.22" stroke="#175f6c" stroke-width="0.8"/>
<circle cx="96.70" cy="288.90" r="1.5" fill="#fff" fill-opacity="0.22" stroke="#175f6c" stroke-width="0.8"/>
<circle cx="98.10" cy="292.90" r="1.5" fill="#fff" fill-opacity="0.22" stroke="#175f6c" stroke-width="0.8"/>
<rect x="95.00" y="276.10" width="5.2" height="4.2" fill="#e2eef0"/>
<path d="M123.90,261.80 C124.23,262.00 125.20,262.17 125.90,263.00 C126.60,263.83 127.43,265.72 128.10,266.80 C128.77,267.88 129.28,268.52 129.90,269.50 C130.52,270.48 131.28,271.67 131.80,272.70 C132.32,273.73 133.03,274.65 133.00,275.70 C132.97,276.75 132.18,277.78 131.60,279.00 C131.02,280.22 130.12,281.75 129.50,283.00 C128.88,284.25 128.38,285.27 127.90,286.50 C127.42,287.73 127.10,288.77 126.60,290.40 C126.10,292.03 125.35,294.33 124.90,296.30 C124.45,298.27 124.18,301.00 123.90,302.20 C123.62,303.40 123.32,303.28 123.20,303.50 L122.60,303.50 C122.48,303.28 122.18,303.40 121.90,302.20 C121.62,301.00 121.35,298.27 120.90,296.30 C120.45,294.33 119.70,292.03 119.20,290.40 C118.70,288.77 118.38,287.73 117.90,286.50 C117.42,285.27 116.92,284.25 116.30,283.00 C115.68,281.75 114.78,280.22 114.20,279.00 C113.62,277.78 112.83,276.75 112.80,275.70 C112.77,274.65 113.48,273.73 114.00,272.70 C114.52,271.67 115.28,270.48 115.90,269.50 C116.52,268.52 117.03,267.88 117.70,266.80 C118.37,265.72 119.20,263.83 119.90,263.00 C120.60,262.17 121.57,262.00 121.90,261.80 Z" fill="#8ea6ad" stroke="#174550" stroke-opacity="0.25" stroke-width="0.6"/>
<line x1="122.90" y1="262.40" x2="122.90" y2="305.90" stroke="#174550" stroke-width="0.9"/>
<rect x="120.70" y="266.80" width="4.4" height="22.90" fill="#174550"/>
<circle cx="122.90" cy="262.40" r="1.5" fill="#fff" fill-opacity="0.22" stroke="#12343c" stroke-width="0.8"/>
<circle cx="123.80" cy="265.00" r="1.5" fill="#fff" fill-opacity="0.22" stroke="#12343c" stroke-width="0.8"/>
<circle cx="122.00" cy="268.00" r="1.5" fill="#fff" fill-opacity="0.22" stroke="#12343c" stroke-width="0.8"/>
<circle cx="123.40" cy="271.00" r="1.5" fill="#fff" fill-opacity="0.22" stroke="#12343c" stroke-width="0.8"/>
<circle cx="122.40" cy="274.00" r="1.5" fill="#fff" fill-opacity="0.22" stroke="#12343c" stroke-width="0.8"/>
<circle cx="122.90" cy="279.00" r="1.5" fill="#fff" fill-opacity="0.22" stroke="#12343c" stroke-width="0.8"/>
<circle cx="123.80" cy="282.00" r="1.5" fill="#fff" fill-opacity="0.22" stroke="#12343c" stroke-width="0.8"/>
<circle cx="122.00" cy="285.00" r="1.5" fill="#fff" fill-opacity="0.22" stroke="#12343c" stroke-width="0.8"/>
<circle cx="123.40" cy="288.00" r="1.5" fill="#fff" fill-opacity="0.22" stroke="#12343c" stroke-width="0.8"/>
<circle cx="122.40" cy="291.00" r="1.5" fill="#fff" fill-opacity="0.22" stroke="#12343c" stroke-width="0.8"/>
<circle cx="122.90" cy="294.00" r="1.5" fill="#fff" fill-opacity="0.22" stroke="#12343c" stroke-width="0.8"/>
<circle cx="123.80" cy="305.90" r="1.5" fill="#fff" fill-opacity="0.22" stroke="#12343c" stroke-width="0.8"/>
<rect x="120.30" y="274.30" width="5.2" height="4.2" fill="#e2eef0"/>
<path d="M173.70,249.80 C173.87,250.00 174.25,250.18 174.70,251.00 C175.15,251.82 175.82,253.62 176.40,254.70 C176.98,255.78 177.60,256.52 178.20,257.50 C178.80,258.48 179.48,259.60 180.00,260.60 C180.52,261.60 180.95,262.52 181.30,263.50 C181.65,264.48 182.00,265.58 182.10,266.50 C182.20,267.42 182.12,268.13 181.90,269.00 C181.68,269.87 181.42,270.87 180.80,271.70 C180.18,272.53 179.13,273.38 178.20,274.00 C177.27,274.62 176.12,275.07 175.20,275.40 C174.28,275.73 173.12,275.90 172.70,276.00 L172.70,276.00 C172.28,275.90 171.12,275.73 170.20,275.40 C169.28,275.07 168.13,274.62 167.20,274.00 C166.27,273.38 165.22,272.53 164.60,271.70 C163.98,270.87 163.72,269.87 163.50,269.00 C163.28,268.13 163.20,267.42 163.30,266.50 C163.40,265.58 163.75,264.48 164.10,263.50 C164.45,262.52 164.88,261.60 165.40,260.60 C165.92,259.60 166.60,258.48 167.20,257.50 C167.80,256.52 168.42,255.78 169.00,254.70 C169.58,253.62 170.25,251.82 170.70,251.00 C171.15,250.18 171.53,250.00 171.70,249.80 Z" fill="#dac8e6" stroke="#a779c0" stroke-opacity="0.25" stroke-width="0.6"/>
<line x1="172.70" y1="250.30" x2="172.70" y2="276.10" stroke="#a779c0" stroke-width="0.9"/>
<rect x="170.50" y="254.70" width="4.4" height="17.00" fill="#a779c0"/>
<circle cx="172.70" cy="250.30" r="1.5" fill="#fff" fill-opacity="0.22" stroke="#8a5aa6" stroke-width="0.8"/>
<circle cx="173.60" cy="255.00" r="1.5" fill="#fff" fill-opacity="0.22" stroke="#8a5aa6" stroke-width="0.8"/>
<circle cx="171.80" cy="258.00" r="1.5" fill="#fff" fill-opacity="0.22" stroke="#8a5aa6" stroke-width="0.8"/>
<circle cx="173.20" cy="262.00" r="1.5" fill="#fff" fill-opacity="0.22" stroke="#8a5aa6" stroke-width="0.8"/>
<circle cx="172.20" cy="272.00" r="1.5" fill="#fff" fill-opacity="0.22" stroke="#8a5aa6" stroke-width="0.8"/>
<circle cx="172.70" cy="276.10" r="1.5" fill="#fff" fill-opacity="0.22" stroke="#8a5aa6" stroke-width="0.8"/>
<rect x="170.10" y="265.20" width="5.2" height="4.2" fill="#ece2f0"/>
<path d="M199.00,248.30 C199.25,248.58 200.12,249.22 200.50,250.00 C200.88,250.78 201.08,251.97 201.30,253.00 C201.52,254.03 201.47,255.20 201.80,256.20 C202.13,257.20 202.75,258.02 203.30,259.00 C203.85,259.98 204.52,261.02 205.10,262.10 C205.68,263.18 206.30,264.27 206.80,265.50 C207.30,266.73 207.82,268.25 208.10,269.50 C208.38,270.75 208.50,271.90 208.50,273.00 C208.50,274.10 208.35,275.10 208.10,276.10 C207.85,277.10 207.52,278.10 207.00,279.00 C206.48,279.90 205.83,280.75 205.00,281.50 C204.17,282.25 203.08,283.00 202.00,283.50 C200.92,284.00 199.08,284.33 198.50,284.50 L198.50,284.50 C197.92,284.33 196.08,284.00 195.00,283.50 C193.92,283.00 192.83,282.25 192.00,281.50 C191.17,280.75 190.52,279.90 190.00,279.00 C189.48,278.10 189.15,277.10 188.90,276.10 C188.65,275.10 188.50,274.10 188.50,273.00 C188.50,271.90 188.62,270.75 188.90,269.50 C189.18,268.25 189.70,266.73 190.20,265.50 C190.70,264.27 191.32,263.18 191.90,262.10 C192.48,261.02 193.15,259.98 193.70,259.00 C194.25,258.02 194.87,257.20 195.20,256.20 C195.53,255.20 195.48,254.03 195.70,253.00 C195.92,251.97 196.12,250.78 196.50,250.00 C196.88,249.22 197.75,248.58 198.00,248.30 Z" fill="#c3a8d7" stroke="#8440a6" stroke-opacity="0.25" stroke-width="0.6"/>
<line x1="198.50" y1="248.80" x2="198.50" y2="283.50" stroke="#8440a6" stroke-width="0.9"/>
<rect x="196.30" y="262.00" width="4.4" height="19.00" fill="#8440a6"/>
<circle cx="198.50" cy="248.80" r="1.5" fill="#fff" fill-opacity="0.22" stroke="#6a2f88" stroke-width="0.8"/>
<circle cx="199.40" cy="253.00" r="1.5" fill="#fff" fill-opacity="0.22" stroke="#6a2f88" stroke-width="0.8"/>
<circle cx="197.60" cy="256.00" r="1.5" fill="#fff" fill-opacity="0.22" stroke="#6a2f88" stroke-width="0.8"/>
<circle cx="199.00" cy="259.00" r="1.5" fill="#fff" fill-opacity="0.22" stroke="#6a2f88" stroke-width="0.8"/>
<circle cx="198.00" cy="262.00" r="1.5" fill="#fff" fill-opacity="0.22" stroke="#6a2f88" stroke-width="0.8"/>
<circle cx="198.50" cy="265.00" r="1.5" fill="#fff" fill-opacity="0.22" stroke="#6a2f88" stroke-width="0.8"/>
<circle cx="199.40" cy="268.00" r="1.5" fill="#fff" fill-opacity="0.22" stroke="#6a2f88" stroke-width="0.8"/>
<circle cx="197.60" cy="275.00" r="1.5" fill="#fff" fill-opacity="0.22" stroke="#6a2f88" stroke-width="0.8"/>
<circle cx="199.00" cy="278.00" r="1.5" fill="#fff" fill-opacity="0.22" stroke="#6a2f88" stroke-width="0.8"/>
<circle cx="198.00" cy="281.00" r="1.5" fill="#fff" fill-opacity="0.22" stroke="#6a2f88" stroke-width="0.8"/>
<circle cx="198.50" cy="283.50" r="1.5" fill="#fff" fill-opacity="0.22" stroke="#6a2f88" stroke-width="0.8"/>
<rect x="195.90" y="269.60" width="5.2" height="4.2" fill="#ece2f0"/>
<path d="M224.40,255.50 C224.65,255.75 225.28,256.05 225.90,257.00 C226.52,257.95 227.47,260.03 228.10,261.20 C228.73,262.37 229.22,263.02 229.70,264.00 C230.18,264.98 230.48,265.72 231.00,267.10 C231.52,268.48 232.65,270.82 232.80,272.30 C232.95,273.78 232.45,274.65 231.90,276.00 C231.35,277.35 230.22,279.15 229.50,280.40 C228.78,281.65 228.20,282.52 227.60,283.50 C227.00,284.48 226.60,285.33 225.90,286.30 C225.20,287.27 223.82,288.80 223.40,289.30 L222.40,289.30 C221.98,288.80 220.60,287.27 219.90,286.30 C219.20,285.33 218.80,284.48 218.20,283.50 C217.60,282.52 217.02,281.65 216.30,280.40 C215.58,279.15 214.45,277.35 213.90,276.00 C213.35,274.65 212.85,273.78 213.00,272.30 C213.15,270.82 214.28,268.48 214.80,267.10 C215.32,265.72 215.62,264.98 216.10,264.00 C216.58,263.02 217.07,262.37 217.70,261.20 C218.33,260.03 219.28,257.95 219.90,257.00 C220.52,256.05 221.15,255.75 221.40,255.50 Z" fill="#bba7c7" stroke="#5e2c74" stroke-opacity="0.25" stroke-width="0.6"/>
<line x1="222.90" y1="256.10" x2="222.90" y2="290.80" stroke="#5e2c74" stroke-width="0.9"/>
<rect x="220.70" y="264.20" width="4.4" height="19.20" fill="#5e2c74"/>
<circle cx="222.90" cy="256.10" r="1.5" fill="#fff" fill-opacity="0.22" stroke="#43184f" stroke-width="0.8"/>
<circle cx="223.80" cy="262.00" r="1.5" fill="#fff" fill-opacity="0.22" stroke="#43184f" stroke-width="0.8"/>
<circle cx="222.00" cy="265.00" r="1.5" fill="#fff" fill-opacity="0.22" stroke="#43184f" stroke-width="0.8"/>
<circle cx="223.40" cy="268.00" r="1.5" fill="#fff" fill-opacity="0.22" stroke="#43184f" stroke-width="0.8"/>
<circle cx="222.40" cy="270.00" r="1.5" fill="#fff" fill-opacity="0.22" stroke="#43184f" stroke-width="0.8"/>
<circle cx="222.90" cy="278.00" r="1.5" fill="#fff" fill-opacity="0.22" stroke="#43184f" stroke-width="0.8"/>
<circle cx="223.80" cy="281.00" r="1.5" fill="#fff" fill-opacity="0.22" stroke="#43184f" stroke-width="0.8"/>
<circle cx="222.00" cy="287.10" r="1.5" fill="#fff" fill-opacity="0.22" stroke="#43184f" stroke-width="0.8"/>
<circle cx="223.40" cy="290.80" r="1.5" fill="#fff" fill-opacity="0.22" stroke="#43184f" stroke-width="0.8"/>
<rect x="220.30" y="270.90" width="5.2" height="4.2" fill="#ece2f0"/>
<path d="M340.70,261.20 C341.03,261.30 342.12,261.33 342.70,261.80 C343.28,262.27 343.68,262.98 344.20,264.00 C344.72,265.02 345.35,266.40 345.80,267.90 C346.25,269.40 346.63,271.13 346.90,273.00 C347.17,274.87 347.27,277.10 347.40,279.10 C347.53,281.10 347.63,282.85 347.70,285.00 C347.77,287.15 347.88,290.00 347.80,292.00 C347.72,294.00 347.50,295.40 347.20,297.00 C346.90,298.60 346.50,300.35 346.00,301.60 C345.50,302.85 344.92,303.77 344.20,304.50 C343.48,305.23 342.70,305.67 341.70,306.00 C340.70,306.33 338.78,306.42 338.20,306.50 L338.20,306.50 C337.62,306.42 335.70,306.33 334.70,306.00 C333.70,305.67 332.92,305.23 332.20,304.50 C331.48,303.77 330.90,302.85 330.40,301.60 C329.90,300.35 329.50,298.60 329.20,297.00 C328.90,295.40 328.68,294.00 328.60,292.00 C328.52,290.00 328.63,287.15 328.70,285.00 C328.77,282.85 328.87,281.10 329.00,279.10 C329.13,277.10 329.23,274.87 329.50,273.00 C329.77,271.13 330.15,269.40 330.60,267.90 C331.05,266.40 331.68,265.02 332.20,264.00 C332.72,262.98 333.12,262.27 333.70,261.80 C334.28,261.33 335.37,261.30 335.70,261.20 Z" fill="#aad7da" stroke="#35abad" stroke-opacity="0.25" stroke-width="0.6"/>
<line x1="338.20" y1="262.20" x2="338.20" y2="307.30" stroke="#35abad" stroke-width="0.9"/>
<rect x="336.00" y="273.50" width="4.4" height="13.70" fill="#35abad"/>
<circle cx="338.20" cy="262.20" r="1.5" fill="#fff" fill-opacity="0.22" stroke="#1f8f94" stroke-width="0.8"/>
<circle cx="339.10" cy="266.00" r="1.5" fill="#fff" fill-opacity="0.22" stroke="#1f8f94" stroke-width="0.8"/>
<circle cx="337.30" cy="275.00" r="1.5" fill="#fff" fill-opacity="0.22" stroke="#1f8f94" stroke-width="0.8"/>
<circle cx="338.70" cy="278.00" r="1.5" fill="#fff" fill-opacity="0.22" stroke="#1f8f94" stroke-width="0.8"/>
<circle cx="337.70" cy="292.00" r="1.5" fill="#fff" fill-opacity="0.22" stroke="#1f8f94" stroke-width="0.8"/>
<circle cx="338.20" cy="303.20" r="1.5" fill="#fff" fill-opacity="0.22" stroke="#1f8f94" stroke-width="0.8"/>
<circle cx="339.10" cy="307.30" r="1.5" fill="#fff" fill-opacity="0.22" stroke="#1f8f94" stroke-width="0.8"/>
<rect x="335.60" y="286.70" width="5.2" height="4.2" fill="#e2eef0"/>
<path d="M366.50,274.50 C366.92,274.60 368.33,274.52 369.00,275.10 C369.67,275.68 370.07,276.80 370.50,278.00 C370.93,279.20 371.27,281.05 371.60,282.30 C371.93,283.55 372.25,284.42 372.50,285.50 C372.75,286.58 373.17,287.63 373.10,288.80 C373.03,289.97 372.50,291.17 372.10,292.50 C371.70,293.83 371.22,295.55 370.70,296.80 C370.18,298.05 369.62,298.88 369.00,300.00 C368.38,301.12 367.75,302.47 367.00,303.50 C366.25,304.53 365.08,305.68 364.50,306.20 C363.92,306.72 363.67,306.53 363.50,306.60 L363.50,306.60 C363.33,306.53 363.08,306.72 362.50,306.20 C361.92,305.68 360.75,304.53 360.00,303.50 C359.25,302.47 358.62,301.12 358.00,300.00 C357.38,298.88 356.82,298.05 356.30,296.80 C355.78,295.55 355.30,293.83 354.90,292.50 C354.50,291.17 353.97,289.97 353.90,288.80 C353.83,287.63 354.25,286.58 354.50,285.50 C354.75,284.42 355.07,283.55 355.40,282.30 C355.73,281.05 356.07,279.20 356.50,278.00 C356.93,276.80 357.33,275.68 358.00,275.10 C358.67,274.52 360.08,274.60 360.50,274.50 Z" fill="#a4c3cb" stroke="#1d7585" stroke-opacity="0.25" stroke-width="0.6"/>
<line x1="363.50" y1="274.30" x2="363.50" y2="306.40" stroke="#1d7585" stroke-width="0.9"/>
<rect x="361.30" y="279.10" width="4.4" height="20.10" fill="#1d7585"/>
<circle cx="363.50" cy="274.30" r="1.5" fill="#fff" fill-opacity="0.22" stroke="#175f6c" stroke-width="0.8"/>
<circle cx="364.40" cy="276.00" r="1.5" fill="#fff" fill-opacity="0.22" stroke="#175f6c" stroke-width="0.8"/>
<circle cx="362.60" cy="279.00" r="1.5" fill="#fff" fill-opacity="0.22" stroke="#175f6c" stroke-width="0.8"/>
<circle cx="364.00" cy="282.00" r="1.5" fill="#fff" fill-opacity="0.22" stroke="#175f6c" stroke-width="0.8"/>
<circle cx="363.00" cy="285.00" r="1.5" fill="#fff" fill-opacity="0.22" stroke="#175f6c" stroke-width="0.8"/>
<circle cx="363.50" cy="293.00" r="1.5" fill="#fff" fill-opacity="0.22" stroke="#175f6c" stroke-width="0.8"/>
<circle cx="364.40" cy="296.00" r="1.5" fill="#fff" fill-opacity="0.22" stroke="#175f6c" stroke-width="0.8"/>
<circle cx="362.60" cy="299.00" r="1.5" fill="#fff" fill-opacity="0.22" stroke="#175f6c" stroke-width="0.8"/>
<circle cx="364.00" cy="302.00" r="1.5" fill="#fff" fill-opacity="0.22" stroke="#175f6c" stroke-width="0.8"/>
<circle cx="363.00" cy="306.40" r="1.5" fill="#fff" fill-opacity="0.22" stroke="#175f6c" stroke-width="0.8"/>
<rect x="360.90" y="287.50" width="5.2" height="4.2" fill="#e2eef0"/>
<path d="M389.30,271.50 C389.55,271.67 390.35,271.92 390.80,272.50 C391.25,273.08 391.55,274.15 392.00,275.00 C392.45,275.85 392.90,276.68 393.50,277.60 C394.10,278.52 394.95,279.47 395.60,280.50 C396.25,281.53 396.93,282.72 397.40,283.80 C397.87,284.88 398.18,285.97 398.40,287.00 C398.62,288.03 398.65,288.20 398.70,290.00 C398.75,291.80 398.88,295.88 398.70,297.80 C398.52,299.72 398.05,300.20 397.60,301.50 C397.15,302.80 396.55,304.27 396.00,305.60 C395.45,306.93 394.80,308.35 394.30,309.50 C393.80,310.65 393.58,311.83 393.00,312.50 C392.42,313.17 391.50,313.28 390.80,313.50 C390.10,313.72 389.13,313.75 388.80,313.80 L388.80,313.80 C388.47,313.75 387.50,313.72 386.80,313.50 C386.10,313.28 385.18,313.17 384.60,312.50 C384.02,311.83 383.80,310.65 383.30,309.50 C382.80,308.35 382.15,306.93 381.60,305.60 C381.05,304.27 380.45,302.80 380.00,301.50 C379.55,300.20 379.08,299.72 378.90,297.80 C378.72,295.88 378.85,291.80 378.90,290.00 C378.95,288.20 378.98,288.03 379.20,287.00 C379.42,285.97 379.73,284.88 380.20,283.80 C380.67,282.72 381.35,281.53 382.00,280.50 C382.65,279.47 383.50,278.52 384.10,277.60 C384.70,276.68 385.15,275.85 385.60,275.00 C386.05,274.15 386.35,273.08 386.80,272.50 C387.25,271.92 388.05,271.67 388.30,271.50 Z" fill="#8ea6ad" stroke="#174550" stroke-opacity="0.25" stroke-width="0.6"/>
<line x1="388.80" y1="271.30" x2="388.80" y2="312.60" stroke="#174550" stroke-width="0.9"/>
<rect x="386.60" y="276.00" width="4.4" height="32.70" fill="#174550"/>
<circle cx="388.80" cy="271.30" r="1.5" fill="#fff" fill-opacity="0.22" stroke="#12343c" stroke-width="0.8"/>
<circle cx="389.70" cy="274.00" r="1.5" fill="#fff" fill-opacity="0.22" stroke="#12343c" stroke-width="0.8"/>
<circle cx="387.90" cy="276.00" r="1.5" fill="#fff" fill-opacity="0.22" stroke="#12343c" stroke-width="0.8"/>
<circle cx="389.30" cy="278.00" r="1.5" fill="#fff" fill-opacity="0.22" stroke="#12343c" stroke-width="0.8"/>
<circle cx="388.30" cy="280.00" r="1.5" fill="#fff" fill-opacity="0.22" stroke="#12343c" stroke-width="0.8"/>
<circle cx="388.80" cy="282.00" r="1.5" fill="#fff" fill-opacity="0.22" stroke="#12343c" stroke-width="0.8"/>
<circle cx="389.70" cy="284.00" r="1.5" fill="#fff" fill-opacity="0.22" stroke="#12343c" stroke-width="0.8"/>
<circle cx="387.90" cy="286.00" r="1.5" fill="#fff" fill-opacity="0.22" stroke="#12343c" stroke-width="0.8"/>
<circle cx="389.30" cy="288.00" r="1.5" fill="#fff" fill-opacity="0.22" stroke="#12343c" stroke-width="0.8"/>
<circle cx="388.30" cy="290.00" r="1.5" fill="#fff" fill-opacity="0.22" stroke="#12343c" stroke-width="0.8"/>
<circle cx="388.80" cy="292.00" r="1.5" fill="#fff" fill-opacity="0.22" stroke="#12343c" stroke-width="0.8"/>
<circle cx="389.70" cy="299.00" r="1.5" fill="#fff" fill-opacity="0.22" stroke="#12343c" stroke-width="0.8"/>
<circle cx="387.90" cy="301.00" r="1.5" fill="#fff" fill-opacity="0.22" stroke="#12343c" stroke-width="0.8"/>
<circle cx="389.30" cy="303.00" r="1.5" fill="#fff" fill-opacity="0.22" stroke="#12343c" stroke-width="0.8"/>
<circle cx="388.30" cy="305.00" r="1.5" fill="#fff" fill-opacity="0.22" stroke="#12343c" stroke-width="0.8"/>
<circle cx="388.80" cy="307.00" r="1.5" fill="#fff" fill-opacity="0.22" stroke="#12343c" stroke-width="0.8"/>
<circle cx="389.70" cy="309.00" r="1.5" fill="#fff" fill-opacity="0.22" stroke="#12343c" stroke-width="0.8"/>
<circle cx="387.90" cy="311.00" r="1.5" fill="#fff" fill-opacity="0.22" stroke="#12343c" stroke-width="0.8"/>
<circle cx="389.30" cy="312.60" r="1.5" fill="#fff" fill-opacity="0.22" stroke="#12343c" stroke-width="0.8"/>
<rect x="386.20" y="293.40" width="5.2" height="4.2" fill="#e2eef0"/>
<path d="M442.20,257.20 C442.53,257.30 443.53,257.33 444.20,257.80 C444.87,258.27 445.63,258.90 446.20,260.00 C446.77,261.10 447.47,263.07 447.60,264.40 C447.73,265.73 447.37,266.55 447.00,268.00 C446.63,269.45 445.58,271.52 445.40,273.10 C445.22,274.68 445.65,276.05 445.90,277.50 C446.15,278.95 446.63,280.22 446.90,281.80 C447.17,283.38 447.57,285.63 447.50,287.00 C447.43,288.37 446.97,289.17 446.50,290.00 C446.03,290.83 445.58,291.53 444.70,292.00 C443.82,292.47 442.28,292.63 441.20,292.80 C440.12,292.97 438.70,292.97 438.20,293.00 L438.20,293.00 C437.70,292.97 436.28,292.97 435.20,292.80 C434.12,292.63 432.58,292.47 431.70,292.00 C430.82,291.53 430.37,290.83 429.90,290.00 C429.43,289.17 428.97,288.37 428.90,287.00 C428.83,285.63 429.23,283.38 429.50,281.80 C429.77,280.22 430.25,278.95 430.50,277.50 C430.75,276.05 431.18,274.68 431.00,273.10 C430.82,271.52 429.77,269.45 429.40,268.00 C429.03,266.55 428.67,265.73 428.80,264.40 C428.93,263.07 429.63,261.10 430.20,260.00 C430.77,258.90 431.53,258.27 432.20,257.80 C432.87,257.33 433.87,257.30 434.20,257.20 Z" fill="#dac8e6" stroke="#a779c0" stroke-opacity="0.25" stroke-width="0.6"/>
<line x1="438.20" y1="258.30" x2="438.20" y2="292.30" stroke="#a779c0" stroke-width="0.9"/>
<rect x="436.00" y="260.90" width="4.4" height="27.90" fill="#a779c0"/>
<circle cx="438.20" cy="258.30" r="1.5" fill="#fff" fill-opacity="0.22" stroke="#8a5aa6" stroke-width="0.8"/>
<circle cx="439.10" cy="266.00" r="1.5" fill="#fff" fill-opacity="0.22" stroke="#8a5aa6" stroke-width="0.8"/>
<circle cx="437.30" cy="286.00" r="1.5" fill="#fff" fill-opacity="0.22" stroke="#8a5aa6" stroke-width="0.8"/>
<circle cx="438.70" cy="292.30" r="1.5" fill="#fff" fill-opacity="0.22" stroke="#8a5aa6" stroke-width="0.8"/>
<rect x="435.60" y="274.50" width="5.2" height="4.2" fill="#ece2f0"/>
<path d="M463.90,242.50 C464.02,243.08 464.43,244.42 464.60,246.00 C464.77,247.58 464.80,250.10 464.90,252.00 C465.00,253.90 464.92,256.07 465.20,257.40 C465.48,258.73 466.12,259.13 466.60,260.00 C467.08,260.87 467.63,261.60 468.10,262.60 C468.57,263.60 468.97,264.83 469.40,266.00 C469.83,267.17 470.27,268.27 470.70,269.60 C471.13,270.93 471.60,272.55 472.00,274.00 C472.40,275.45 473.07,276.97 473.10,278.30 C473.13,279.63 472.60,280.55 472.20,282.00 C471.80,283.45 471.33,285.50 470.70,287.00 C470.07,288.50 469.12,289.83 468.40,291.00 C467.68,292.17 467.15,292.92 466.40,294.00 C465.65,295.08 464.32,296.92 463.90,297.50 L462.90,297.50 C462.48,296.92 461.15,295.08 460.40,294.00 C459.65,292.92 459.12,292.17 458.40,291.00 C457.68,289.83 456.73,288.50 456.10,287.00 C455.47,285.50 455.00,283.45 454.60,282.00 C454.20,280.55 453.67,279.63 453.70,278.30 C453.73,276.97 454.40,275.45 454.80,274.00 C455.20,272.55 455.67,270.93 456.10,269.60 C456.53,268.27 456.97,267.17 457.40,266.00 C457.83,264.83 458.23,263.60 458.70,262.60 C459.17,261.60 459.72,260.87 460.20,260.00 C460.68,259.13 461.32,258.73 461.60,257.40 C461.88,256.07 461.80,253.90 461.90,252.00 C462.00,250.10 462.03,247.58 462.20,246.00 C462.37,244.42 462.78,243.08 462.90,242.50 Z" fill="#c3a8d7" stroke="#8440a6" stroke-opacity="0.25" stroke-width="0.6"/>
<line x1="463.40" y1="243.50" x2="463.40" y2="300.10" stroke="#8440a6" stroke-width="0.9"/>
<rect x="461.20" y="260.90" width="4.4" height="31.40" fill="#8440a6"/>
<circle cx="463.40" cy="243.50" r="1.5" fill="#fff" fill-opacity="0.22" stroke="#6a2f88" stroke-width="0.8"/>
<circle cx="464.30" cy="259.00" r="1.5" fill="#fff" fill-opacity="0.22" stroke="#6a2f88" stroke-width="0.8"/>
<circle cx="462.50" cy="262.00" r="1.5" fill="#fff" fill-opacity="0.22" stroke="#6a2f88" stroke-width="0.8"/>
<circle cx="463.90" cy="265.00" r="1.5" fill="#fff" fill-opacity="0.22" stroke="#6a2f88" stroke-width="0.8"/>
<circle cx="462.90" cy="268.00" r="1.5" fill="#fff" fill-opacity="0.22" stroke="#6a2f88" stroke-width="0.8"/>
<circle cx="463.40" cy="271.00" r="1.5" fill="#fff" fill-opacity="0.22" stroke="#6a2f88" stroke-width="0.8"/>
<circle cx="464.30" cy="274.00" r="1.5" fill="#fff" fill-opacity="0.22" stroke="#6a2f88" stroke-width="0.8"/>
<circle cx="462.50" cy="283.00" r="1.5" fill="#fff" fill-opacity="0.22" stroke="#6a2f88" stroke-width="0.8"/>
<circle cx="463.90" cy="286.00" r="1.5" fill="#fff" fill-opacity="0.22" stroke="#6a2f88" stroke-width="0.8"/>
<circle cx="462.90" cy="289.00" r="1.5" fill="#fff" fill-opacity="0.22" stroke="#6a2f88" stroke-width="0.8"/>
<circle cx="463.40" cy="292.00" r="1.5" fill="#fff" fill-opacity="0.22" stroke="#6a2f88" stroke-width="0.8"/>
<circle cx="464.30" cy="295.00" r="1.5" fill="#fff" fill-opacity="0.22" stroke="#6a2f88" stroke-width="0.8"/>
<circle cx="462.50" cy="300.10" r="1.5" fill="#fff" fill-opacity="0.22" stroke="#6a2f88" stroke-width="0.8"/>
<rect x="460.80" y="277.10" width="5.2" height="4.2" fill="#ece2f0"/>
<path d="M489.40,255.50 C489.65,255.92 490.55,256.32 490.90,258.00 C491.25,259.68 491.25,263.85 491.50,265.60 C491.75,267.35 492.05,267.47 492.40,268.50 C492.75,269.53 493.13,270.63 493.60,271.80 C494.07,272.97 494.68,274.20 495.20,275.50 C495.72,276.80 496.28,278.27 496.70,279.60 C497.12,280.93 497.40,282.20 497.70,283.50 C498.00,284.80 498.53,286.15 498.50,287.40 C498.47,288.65 497.93,289.72 497.50,291.00 C497.07,292.28 496.50,293.85 495.90,295.10 C495.30,296.35 494.65,297.43 493.90,298.50 C493.15,299.57 492.23,300.87 491.40,301.50 C490.57,302.13 489.32,302.17 488.90,302.30 L488.90,302.30 C488.48,302.17 487.23,302.13 486.40,301.50 C485.57,300.87 484.65,299.57 483.90,298.50 C483.15,297.43 482.50,296.35 481.90,295.10 C481.30,293.85 480.73,292.28 480.30,291.00 C479.87,289.72 479.33,288.65 479.30,287.40 C479.27,286.15 479.80,284.80 480.10,283.50 C480.40,282.20 480.68,280.93 481.10,279.60 C481.52,278.27 482.08,276.80 482.60,275.50 C483.12,274.20 483.73,272.97 484.20,271.80 C484.67,270.63 485.05,269.53 485.40,268.50 C485.75,267.47 486.05,267.35 486.30,265.60 C486.55,263.85 486.55,259.68 486.90,258.00 C487.25,256.32 488.15,255.92 488.40,255.50 Z" fill="#bba7c7" stroke="#5e2c74" stroke-opacity="0.25" stroke-width="0.6"/>
<line x1="488.90" y1="256.20" x2="488.90" y2="302.10" stroke="#5e2c74" stroke-width="0.9"/>
<rect x="486.70" y="271.00" width="4.4" height="26.50" fill="#5e2c74"/>
<circle cx="488.90" cy="256.20" r="1.5" fill="#fff" fill-opacity="0.22" stroke="#43184f" stroke-width="0.8"/>
<circle cx="489.80" cy="270.00" r="1.5" fill="#fff" fill-opacity="0.22" stroke="#43184f" stroke-width="0.8"/>
<circle cx="488.00" cy="275.00" r="1.5" fill="#fff" fill-opacity="0.22" stroke="#43184f" stroke-width="0.8"/>
<circle cx="489.40" cy="278.00" r="1.5" fill="#fff" fill-opacity="0.22" stroke="#43184f" stroke-width="0.8"/>
<circle cx="488.40" cy="281.00" r="1.5" fill="#fff" fill-opacity="0.22" stroke="#43184f" stroke-width="0.8"/>
<circle cx="488.90" cy="284.00" r="1.5" fill="#fff" fill-opacity="0.22" stroke="#43184f" stroke-width="0.8"/>
<circle cx="489.80" cy="291.00" r="1.5" fill="#fff" fill-opacity="0.22" stroke="#43184f" stroke-width="0.8"/>
<circle cx="488.00" cy="294.00" r="1.5" fill="#fff" fill-opacity="0.22" stroke="#43184f" stroke-width="0.8"/>
<circle cx="489.40" cy="297.00" r="1.5" fill="#fff" fill-opacity="0.22" stroke="#43184f" stroke-width="0.8"/>
<circle cx="488.40" cy="302.10" r="1.5" fill="#fff" fill-opacity="0.22" stroke="#43184f" stroke-width="0.8"/>
<rect x="486.30" y="284.50" width="5.2" height="4.2" fill="#ece2f0"/>
<rect x="48.00" y="22.60" width="199.80" height="129.80" fill="none" stroke="#333" stroke-width="1.2"/>
<line x1="45.00" y1="152.40" x2="48.00" y2="152.40" stroke="#333" stroke-width="1.1"/>
<text x="42.00" y="154.90" font-size="7.2" text-anchor="end" class="r" fill="#1e1e1e" font-family="Liberation Sans, sans-serif">0.0</text>
<line x1="45.00" y1="136.18" x2="48.00" y2="136.18" stroke="#333" stroke-width="1.1"/>
<text x="42.00" y="138.68" font-size="7.2" text-anchor="end" class="r" fill="#1e1e1e" font-family="Liberation Sans, sans-serif">2.5</text>
<line x1="45.00" y1="119.95" x2="48.00" y2="119.95" stroke="#333" stroke-width="1.1"/>
<text x="42.00" y="122.45" font-size="7.2" text-anchor="end" class="r" fill="#1e1e1e" font-family="Liberation Sans, sans-serif">5.0</text>
<line x1="45.00" y1="103.72" x2="48.00" y2="103.72" stroke="#333" stroke-width="1.1"/>
<text x="42.00" y="106.22" font-size="7.2" text-anchor="end" class="r" fill="#1e1e1e" font-family="Liberation Sans, sans-serif">7.5</text>
<line x1="45.00" y1="87.50" x2="48.00" y2="87.50" stroke="#333" stroke-width="1.1"/>
<text x="42.00" y="90.00" font-size="7.2" text-anchor="end" class="r" fill="#1e1e1e" font-family="Liberation Sans, sans-serif">10.0</text>
<line x1="45.00" y1="71.27" x2="48.00" y2="71.27" stroke="#333" stroke-width="1.1"/>
<text x="42.00" y="73.77" font-size="7.2" text-anchor="end" class="r" fill="#1e1e1e" font-family="Liberation Sans, sans-serif">12.5</text>
<line x1="45.00" y1="55.05" x2="48.00" y2="55.05" stroke="#333" stroke-width="1.1"/>
<text x="42.00" y="57.55" font-size="7.2" text-anchor="end" class="r" fill="#1e1e1e" font-family="Liberation Sans, sans-serif">15.0</text>
<line x1="45.00" y1="38.83" x2="48.00" y2="38.83" stroke="#333" stroke-width="1.1"/>
<text x="42.00" y="41.33" font-size="7.2" text-anchor="end" class="r" fill="#1e1e1e" font-family="Liberation Sans, sans-serif">17.5</text>
<line x1="45.00" y1="22.60" x2="48.00" y2="22.60" stroke="#333" stroke-width="1.1"/>
<text x="42.00" y="25.10" font-size="7.2" text-anchor="end" class="r" fill="#1e1e1e" font-family="Liberation Sans, sans-serif">20.0</text>
<line x1="97.95" y1="152.40" x2="97.95" y2="155.40" stroke="#333" stroke-width="1.1"/>
<text x="97.95" y="164.80" font-size="7" text-anchor="middle" class="r" fill="#1e1e1e" font-family="Liberation Sans, sans-serif">Pediatric</text>
<line x1="197.85" y1="152.40" x2="197.85" y2="155.40" stroke="#333" stroke-width="1.1"/>
<text x="197.85" y="164.80" font-size="7" text-anchor="middle" class="r" fill="#1e1e1e" font-family="Liberation Sans, sans-serif">Adult</text>
<text x="147.90" y="176.60" font-size="8.2" font-weight="bold" text-anchor="middle" textLength="16" lengthAdjust="spacingAndGlyphs" fill="#1e1e1e" font-family="Liberation Sans, sans-serif">Group</text>
<rect x="199.10" y="119.10" width="6" height="5.2" fill="#25a89e"/>
<rect x="206.30" y="119.10" width="6" height="5.2" fill="#a981b8" fill-opacity="0.95"/>
<text x="214.60" y="124.30" font-size="7.3" class="r" fill="#1e1e1e" font-family="Liberation Sans, sans-serif">VHS = 0</text>
<rect x="199.10" y="129.65" width="6" height="5.2" fill="#1e6f7b"/>
<rect x="206.30" y="129.65" width="6" height="5.2" fill="#80409e" fill-opacity="0.95"/>
<text x="214.60" y="134.85" font-size="7.3" class="r" fill="#1e1e1e" font-family="Liberation Sans, sans-serif">VHS = 1</text>
<rect x="199.10" y="140.20" width="6" height="5.2" fill="#183f48"/>
<rect x="206.30" y="140.20" width="6" height="5.2" fill="#532261" fill-opacity="0.95"/>
<text x="214.60" y="145.40" font-size="7.3" class="r" fill="#1e1e1e" font-family="Liberation Sans, sans-serif">VHS = 2</text>
<rect x="313.70" y="22.60" width="199.60" height="129.80" fill="none" stroke="#333" stroke-width="1.2"/>
<line x1="310.70" y1="152.40" x2="313.70" y2="152.40" stroke="#333" stroke-width="1.1"/>
<text x="307.70" y="154.90" font-size="7.2" text-anchor="end" class="r" fill="#1e1e1e" font-family="Liberation Sans, sans-serif">0</text>
<line x1="310.70" y1="137.98" x2="313.70" y2="137.98" stroke="#333" stroke-width="1.1"/>
<text x="307.70" y="140.48" font-size="7.2" text-anchor="end" class="r" fill="#1e1e1e" font-family="Liberation Sans, sans-serif">20</text>
<line x1="310.70" y1="123.56" x2="313.70" y2="123.56" stroke="#333" stroke-width="1.1"/>
<text x="307.70" y="126.06" font-size="7.2" text-anchor="end" class="r" fill="#1e1e1e" font-family="Liberation Sans, sans-serif">40</text>
<line x1="310.70" y1="109.13" x2="313.70" y2="109.13" stroke="#333" stroke-width="1.1"/>
<text x="307.70" y="111.63" font-size="7.2" text-anchor="end" class="r" fill="#1e1e1e" font-family="Liberation Sans, sans-serif">60</text>
<line x1="310.70" y1="94.71" x2="313.70" y2="94.71" stroke="#333" stroke-width="1.1"/>
<text x="307.70" y="97.21" font-size="7.2" text-anchor="end" class="r" fill="#1e1e1e" font-family="Liberation Sans, sans-serif">80</text>
<line x1="310.70" y1="80.29" x2="313.70" y2="80.29" stroke="#333" stroke-width="1.1"/>
<text x="307.70" y="82.79" font-size="7.2" text-anchor="end" class="r" fill="#1e1e1e" font-family="Liberation Sans, sans-serif">100</text>
<line x1="310.70" y1="65.87" x2="313.70" y2="65.87" stroke="#333" stroke-width="1.1"/>
<text x="307.70" y="68.37" font-size="7.2" text-anchor="end" class="r" fill="#1e1e1e" font-family="Liberation Sans, sans-serif">120</text>
<line x1="310.70" y1="51.44" x2="313.70" y2="51.44" stroke="#333" stroke-width="1.1"/>
<text x="307.70" y="53.94" font-size="7.2" text-anchor="end" class="r" fill="#1e1e1e" font-family="Liberation Sans, sans-serif">140</text>
<line x1="310.70" y1="37.02" x2="313.70" y2="37.02" stroke="#333" stroke-width="1.1"/>
<text x="307.70" y="39.52" font-size="7.2" text-anchor="end" class="r" fill="#1e1e1e" font-family="Liberation Sans, sans-serif">160</text>
<line x1="310.70" y1="22.60" x2="313.70" y2="22.60" stroke="#333" stroke-width="1.1"/>
<text x="307.70" y="25.10" font-size="7.2" text-anchor="end" class="r" fill="#1e1e1e" font-family="Liberation Sans, sans-serif">180</text>
<line x1="363.60" y1="152.40" x2="363.60" y2="155.40" stroke="#333" stroke-width="1.1"/>
<text x="363.60" y="164.80" font-size="7" text-anchor="middle" class="r" fill="#1e1e1e" font-family="Liberation Sans, sans-serif">Pediatric</text>
<line x1="463.40" y1="152.40" x2="463.40" y2="155.40" stroke="#333" stroke-width="1.1"/>
<text x="463.40" y="164.80" font-size="7" text-anchor="middle" class="r" fill="#1e1e1e" font-family="Liberation Sans, sans-serif">Adult</text>
<text x="413.50" y="176.60" font-size="8.2" font-weight="bold" text-anchor="middle" textLength="16" lengthAdjust="spacingAndGlyphs" fill="#1e1e1e" font-family="Liberation Sans, sans-serif">Group</text>
<rect x="464.80" y="121.60" width="6" height="5.2" fill="#25a89e"/>
<rect x="472.00" y="121.60" width="6" height="5.2" fill="#a981b8" fill-opacity="0.95"/>
<text x="480.30" y="126.80" font-size="7.3" class="r" fill="#1e1e1e" font-family="Liberation Sans, sans-serif">VHS = 0</text>
<rect x="464.80" y="132.15" width="6" height="5.2" fill="#1e6f7b"/>
<rect x="472.00" y="132.15" width="6" height="5.2" fill="#80409e" fill-opacity="0.95"/>
<text x="480.30" y="137.35" font-size="7.3" class="r" fill="#1e1e1e" font-family="Liberation Sans, sans-serif">VHS = 1</text>
<rect x="464.80" y="142.70" width="6" height="5.2" fill="#183f48"/>
<rect x="472.00" y="142.70" width="6" height="5.2" fill="#532261" fill-opacity="0.95"/>
<text x="480.30" y="147.90" font-size="7.3" class="r" fill="#1e1e1e" font-family="Liberation Sans, sans-serif">VHS = 2</text>
<rect x="48.00" y="210.20" width="199.80" height="129.60" fill="none" stroke="#333" stroke-width="1.2"/>
<line x1="45.00" y1="339.80" x2="48.00" y2="339.80" stroke="#333" stroke-width="1.1"/>
<text x="42.00" y="342.30" font-size="7.2" text-anchor="end" class="r" fill="#1e1e1e" font-family="Liberation Sans, sans-serif">0</text>
<line x1="45.00" y1="321.29" x2="48.00" y2="321.29" stroke="#333" stroke-width="1.1"/>
<text x="42.00" y="323.79" font-size="7.2" text-anchor="end" class="r" fill="#1e1e1e" font-family="Liberation Sans, sans-serif">10</text>
<line x1="45.00" y1="302.77" x2="48.00" y2="302.77" stroke="#333" stroke-width="1.1"/>
<text x="42.00" y="305.27" font-size="7.2" text-anchor="end" class="r" fill="#1e1e1e" font-family="Liberation Sans, sans-serif">20</text>
<line x1="45.00" y1="284.26" x2="48.00" y2="284.26" stroke="#333" stroke-width="1.1"/>
<text x="42.00" y="286.76" font-size="7.2" text-anchor="end" class="r" fill="#1e1e1e" font-family="Liberation Sans, sans-serif">30</text>
<line x1="45.00" y1="265.74" x2="48.00" y2="265.74" stroke="#333" stroke-width="1.1"/>
<text x="42.00" y="268.24" font-size="7.2" text-anchor="end" class="r" fill="#1e1e1e" font-family="Liberation Sans, sans-serif">40</text>
<line x1="45.00" y1="247.23" x2="48.00" y2="247.23" stroke="#333" stroke-width="1.1"/>
<text x="42.00" y="249.73" font-size="7.2" text-anchor="end" class="r" fill="#1e1e1e" font-family="Liberation Sans, sans-serif">50</text>
<line x1="45.00" y1="228.71" x2="48.00" y2="228.71" stroke="#333" stroke-width="1.1"/>
<text x="42.00" y="231.21" font-size="7.2" text-anchor="end" class="r" fill="#1e1e1e" font-family="Liberation Sans, sans-serif">60</text>
<line x1="45.00" y1="210.20" x2="48.00" y2="210.20" stroke="#333" stroke-width="1.1"/>
<text x="42.00" y="212.70" font-size="7.2" text-anchor="end" class="r" fill="#1e1e1e" font-family="Liberation Sans, sans-serif">70</text>
<line x1="97.95" y1="339.80" x2="97.95" y2="342.80" stroke="#333" stroke-width="1.1"/>
<text x="97.95" y="352.20" font-size="7" text-anchor="middle" class="r" fill="#1e1e1e" font-family="Liberation Sans, sans-serif">Pediatric</text>
<line x1="197.85" y1="339.80" x2="197.85" y2="342.80" stroke="#333" stroke-width="1.1"/>
<text x="197.85" y="352.20" font-size="7" text-anchor="middle" class="r" fill="#1e1e1e" font-family="Liberation Sans, sans-serif">Adult</text>
<text x="147.90" y="364.00" font-size="8.2" font-weight="bold" text-anchor="middle" textLength="16" lengthAdjust="spacingAndGlyphs" fill="#1e1e1e" font-family="Liberation Sans, sans-serif">Group</text>
<rect x="199.10" y="306.50" width="6" height="5.2" fill="#25a89e"/>
<rect x="206.30" y="306.50" width="6" height="5.2" fill="#a981b8" fill-opacity="0.95"/>
<text x="214.60" y="311.70" font-size="7.3" class="r" fill="#1e1e1e" font-family="Liberation Sans, sans-serif">VHS = 0</text>
<rect x="199.10" y="317.05" width="6" height="5.2" fill="#1e6f7b"/>
<rect x="206.30" y="317.05" width="6" height="5.2" fill="#80409e" fill-opacity="0.95"/>
<text x="214.60" y="322.25" font-size="7.3" class="r" fill="#1e1e1e" font-family="Liberation Sans, sans-serif">VHS = 1</text>
<rect x="199.10" y="327.60" width="6" height="5.2" fill="#183f48"/>
<rect x="206.30" y="327.60" width="6" height="5.2" fill="#532261" fill-opacity="0.95"/>
<text x="214.60" y="332.80" font-size="7.3" class="r" fill="#1e1e1e" font-family="Liberation Sans, sans-serif">VHS = 2</text>
<rect x="313.60" y="210.20" width="199.80" height="129.60" fill="none" stroke="#333" stroke-width="1.2"/>
<line x1="310.60" y1="339.80" x2="313.60" y2="339.80" stroke="#333" stroke-width="1.1"/>
<text x="307.60" y="342.30" font-size="7.2" text-anchor="end" class="r" fill="#1e1e1e" font-family="Liberation Sans, sans-serif">0</text>
<line x1="310.60" y1="323.60" x2="313.60" y2="323.60" stroke="#333" stroke-width="1.1"/>
<text x="307.60" y="326.10" font-size="7.2" text-anchor="end" class="r" fill="#1e1e1e" font-family="Liberation Sans, sans-serif">1</text>
<line x1="310.60" y1="307.40" x2="313.60" y2="307.40" stroke="#333" stroke-width="1.1"/>
<text x="307.60" y="309.90" font-size="7.2" text-anchor="end" class="r" fill="#1e1e1e" font-family="Liberation Sans, sans-serif">2</text>
<line x1="310.60" y1="291.20" x2="313.60" y2="291.20" stroke="#333" stroke-width="1.1"/>
<text x="307.60" y="293.70" font-size="7.2" text-anchor="end" class="r" fill="#1e1e1e" font-family="Liberation Sans, sans-serif">3</text>
<line x1="310.60" y1="275.00" x2="313.60" y2="275.00" stroke="#333" stroke-width="1.1"/>
<text x="307.60" y="277.50" font-size="7.2" text-anchor="end" class="r" fill="#1e1e1e" font-family="Liberation Sans, sans-serif">4</text>
<line x1="310.60" y1="258.80" x2="313.60" y2="258.80" stroke="#333" stroke-width="1.1"/>
<text x="307.60" y="261.30" font-size="7.2" text-anchor="end" class="r" fill="#1e1e1e" font-family="Liberation Sans, sans-serif">5</text>
<line x1="310.60" y1="242.60" x2="313.60" y2="242.60" stroke="#333" stroke-width="1.1"/>
<text x="307.60" y="245.10" font-size="7.2" text-anchor="end" class="r" fill="#1e1e1e" font-family="Liberation Sans, sans-serif">6</text>
<line x1="310.60" y1="226.40" x2="313.60" y2="226.40" stroke="#333" stroke-width="1.1"/>
<text x="307.60" y="228.90" font-size="7.2" text-anchor="end" class="r" fill="#1e1e1e" font-family="Liberation Sans, sans-serif">7</text>
<line x1="310.60" y1="210.20" x2="313.60" y2="210.20" stroke="#333" stroke-width="1.1"/>
<text x="307.60" y="212.70" font-size="7.2" text-anchor="end" class="r" fill="#1e1e1e" font-family="Liberation Sans, sans-serif">8</text>
<line x1="363.55" y1="339.80" x2="363.55" y2="342.80" stroke="#333" stroke-width="1.1"/>
<text x="363.55" y="352.20" font-size="7" text-anchor="middle" class="r" fill="#1e1e1e" font-family="Liberation Sans, sans-serif">Pediatric</text>
<line x1="463.45" y1="339.80" x2="463.45" y2="342.80" stroke="#333" stroke-width="1.1"/>
<text x="463.45" y="352.20" font-size="7" text-anchor="middle" class="r" fill="#1e1e1e" font-family="Liberation Sans, sans-serif">Adult</text>
<text x="413.50" y="364.00" font-size="8.2" font-weight="bold" text-anchor="middle" textLength="16" lengthAdjust="spacingAndGlyphs" fill="#1e1e1e" font-family="Liberation Sans, sans-serif">Group</text>
<rect x="464.70" y="309.00" width="6" height="5.2" fill="#25a89e"/>
<rect x="471.90" y="309.00" width="6" height="5.2" fill="#a981b8" fill-opacity="0.95"/>
<text x="480.20" y="314.20" font-size="7.3" class="r" fill="#1e1e1e" font-family="Liberation Sans, sans-serif">VHS = 0</text>
<rect x="464.70" y="319.55" width="6" height="5.2" fill="#1e6f7b"/>
<rect x="471.90" y="319.55" width="6" height="5.2" fill="#80409e" fill-opacity="0.95"/>
<text x="480.20" y="324.75" font-size="7.3" class="r" fill="#1e1e1e" font-family="Liberation Sans, sans-serif">VHS = 1</text>
<rect x="464.70" y="330.10" width="6" height="5.2" fill="#183f48"/>
<rect x="471.90" y="330.10" width="6" height="5.2" fill="#532261" fill-opacity="0.95"/>
<text x="480.20" y="335.30" font-size="7.3" class="r" fill="#1e1e1e" font-family="Liberation Sans, sans-serif">VHS = 2</text>
<text x="6.0" y="15.8" font-size="11.4" font-weight="bold" fill="#000" font-family="Liberation Sans, sans-serif">A</text>
<text x="262.8" y="15.9" font-size="11.4" font-weight="bold" fill="#000" font-family="Liberation Sans, sans-serif">B</text>
<text x="6.5" y="203.2" font-size="11.4" font-weight="bold" fill="#000" font-family="Liberation Sans, sans-serif">C</text>
<text x="281.6" y="203.1" font-size="11.4" font-weight="bold" fill="#000" font-family="Liberation Sans, sans-serif">D</text>
<text x="75.50" y="45.80" font-size="7.6" text-anchor="start" class="r" fill="#1e1e1e" font-family="Liberation Sans, sans-serif">***: <tspan font-style="italic">P</tspan> &lt; .001</text>
<text x="175.20" y="45.90" font-size="7.6" text-anchor="start" class="r" fill="#1e1e1e" font-family="Liberation Sans, sans-serif">n.s.: <tspan font-style="italic">P</tspan> = .067</text>
<text x="340.80" y="62.50" font-size="7.6" text-anchor="start" class="r" fill="#1e1e1e" font-family="Liberation Sans, sans-serif">n.s.: <tspan font-style="italic">P</tspan> = .342</text>
<text x="440.80" y="48.20" font-size="7.6" text-anchor="start" class="r" fill="#1e1e1e" font-family="Liberation Sans, sans-serif">n.s.: <tspan font-style="italic">P</tspan> = .427</text>
<text x="75.20" y="247.50" font-size="7.6" text-anchor="start" class="r" fill="#1e1e1e" font-family="Liberation Sans, sans-serif">*: <tspan font-style="italic">P</tspan> = .047</text>
<text x="175.20" y="238.40" font-size="7.6" text-anchor="start" class="r" fill="#1e1e1e" font-family="Liberation Sans, sans-serif">n.s.: <tspan font-style="italic">P</tspan> = .056</text>
<text x="341.00" y="251.00" font-size="7.6" text-anchor="start" class="r" fill="#1e1e1e" font-family="Liberation Sans, sans-serif">*: <tspan font-style="italic">P</tspan> = .033</text>
<text x="440.80" y="238.20" font-size="7.6" text-anchor="start" class="r" fill="#1e1e1e" font-family="Liberation Sans, sans-serif">n.s.: <tspan font-style="italic">P</tspan> = .065</text>
<path d="M363.60,40.70 L363.60,37.20 L463.40,37.20 L463.40,40.70" fill="none" stroke="#333" stroke-width="1.1"/>
<text x="413.50" y="34.00" font-size="7.6" text-anchor="middle" class="r" fill="#1e1e1e" font-family="Liberation Sans, sans-serif">***: <tspan font-style="italic">P</tspan> &lt; .001</text>
<path d="M97.95,228.30 L97.95,224.80 L197.85,224.80 L197.85,228.30" fill="none" stroke="#333" stroke-width="1.1"/>
<text x="147.90" y="221.60" font-size="7.6" text-anchor="middle" class="r" fill="#1e1e1e" font-family="Liberation Sans, sans-serif">***: <tspan font-style="italic">P</tspan> &lt; .001</text>
<path d="M363.55,228.30 L363.55,224.80 L463.45,224.80 L463.45,228.30" fill="none" stroke="#333" stroke-width="1.1"/>
<text x="413.50" y="221.60" font-size="7.6" text-anchor="middle" class="r" fill="#1e1e1e" font-family="Liberation Sans, sans-serif">***: <tspan font-style="italic">P</tspan> &lt; .001</text>
<text transform="translate(22.30,88.50) rotate(-90)" x="0" y="0" font-size="9.0" class="t" text-anchor="middle" textLength="74" lengthAdjust="spacingAndGlyphs" fill="#1e1e1e" font-family="Liberation Sans, sans-serif">CaO<tspan font-size="5.5" dy="1.8">2</tspan><tspan dy="-1.8"> (ml O</tspan><tspan font-size="5.5" dy="1.8">2</tspan><tspan dy="-1.8">/100 ml blood)</tspan></text>
<text transform="translate(278.30,87.40) rotate(-90)" x="0" y="0" font-size="9.0" class="t" text-anchor="middle" textLength="63.7" lengthAdjust="spacingAndGlyphs" fill="#1e1e1e" font-family="Liberation Sans, sans-serif">Gray matter CBF mean</text>
<text transform="translate(288.60,87.50) rotate(-90)" x="0" y="0" font-size="9.0" class="t" text-anchor="middle" textLength="75.2" lengthAdjust="spacingAndGlyphs" fill="#1e1e1e" font-family="Liberation Sans, sans-serif">(ml blood/100g tissue/min)</text>
<text transform="translate(28.00,275.00) rotate(-90)" x="0" y="0" font-size="9.0" class="t" text-anchor="middle" textLength="24.5" lengthAdjust="spacingAndGlyphs" fill="#1e1e1e" font-family="Liberation Sans, sans-serif">OEF (%)</text>
<text transform="translate(298.30,275.50) rotate(-90)" x="0" y="0" font-size="9.0" class="t" text-anchor="middle" textLength="89" lengthAdjust="spacingAndGlyphs" fill="#1e1e1e" font-family="Liberation Sans, sans-serif">CMRO<tspan font-size="5.5" dy="1.8">2</tspan><tspan dy="-1.8"> (ml O</tspan><tspan font-size="5.5" dy="1.8">2</tspan><tspan dy="-1.8">/100g tissue/min)</tspan></text>
<rect x="0.5" y="0.5" width="519" height="372" fill="none" stroke="#555" stroke-width="1"/>
</svg></body></html>
